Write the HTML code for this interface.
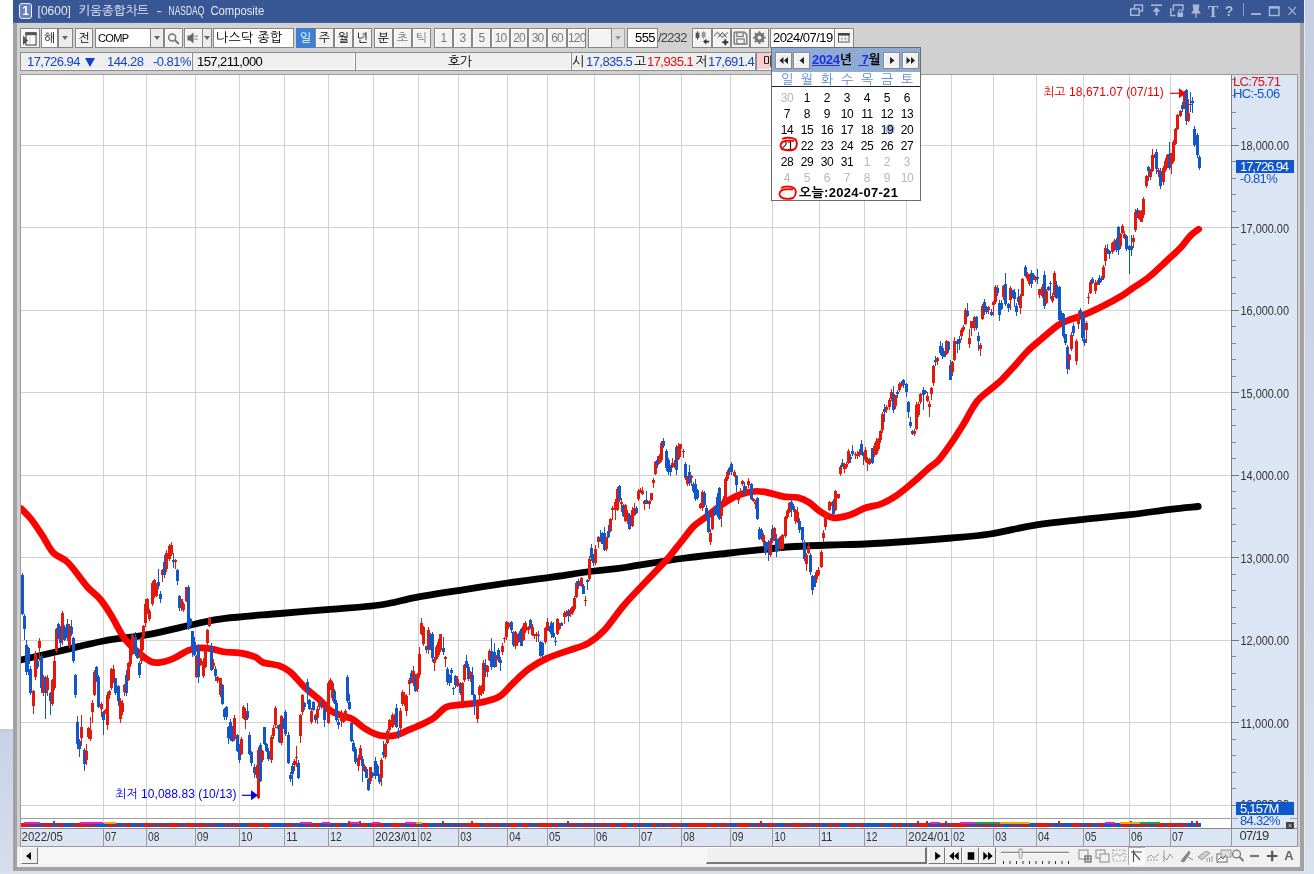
<!DOCTYPE html><html lang="ko"><head><meta charset="utf-8"><title>키움종합차트</title><style>
*{box-sizing:border-box;margin:0;padding:0}
html,body{width:1314px;height:874px;overflow:hidden}
body{position:relative;background:#fff;font-family:"Liberation Sans","NanumGothic","Noto Sans CJK KR",sans-serif;font-size:12px;color:#000}
.abs{position:absolute}
#bgL{left:0;top:0;width:13px;height:874px;background:linear-gradient(#fff 0,#fff 729px,#bfcbe0 729px,#c9d3e7 734px,#d6ddec 874px)}
#bgR{left:1304px;top:0;width:10px;height:874px;background:linear-gradient(#c6cee2,#cdd5e7 50%,#d9e0ee);border-left:1px solid #e6eaf4}
#bgB{left:0;top:871px;width:1314px;height:3px;background:#d9e0ee}
#win{left:13px;top:0;width:1291px;height:871px;background:#d1d1d1;border-left:4px solid #a2a2a2;border-right:4px solid #a2a2a2;border-bottom:4px solid #a2a2a2}
#title{left:13px;top:0;width:1291px;height:23px;background:#3a5795;border-bottom:1px solid #4a64a0}
#ttext{left:37px;top:3px;color:#e6ebf5;font-size:12px;line-height:16px;white-space:pre;letter-spacing:-0.2px}
#ticon{left:19px;top:3px;width:13px;height:16px;border:1px solid #f0f3fa;border-radius:3px;background:#6683bd;color:#fff;font-weight:bold;font-size:12px;line-height:14px;text-align:center}
.btn{position:absolute;top:28px;height:20px;border:1px solid #868686;background:#f3f3f3;text-align:center;line-height:18px;font-size:12px;overflow:hidden;white-space:nowrap;box-shadow:inset 1px 1px 0 #fff}
.inp{position:absolute;top:28px;height:20px;border:1px solid #868686;background:#fff;line-height:18px;font-size:12px;padding-left:2px;overflow:hidden;white-space:nowrap}
.dd{position:absolute;top:28px;height:20px;border:1px solid #868686;background:#ececec}
.dd:after{content:"";position:absolute;left:50%;top:7px;margin-left:-3.5px;border:3.5px solid transparent;border-top:4.5px solid #666;border-bottom:0}
.gray{color:#7c7c7c}
.sel{background:#3c80d6;color:#fff;box-shadow:none;border-color:#3c80d6}
.cell{position:absolute;top:52px;height:19px;border:1px solid #8c8c8c;background:#efefef;line-height:17px;font-size:13px;letter-spacing:-0.55px;white-space:pre;overflow:hidden;box-shadow:inset -1px -1px 0 #fff}
.blue{color:#1144cc}.red{color:#e01010}
#chartframe{left:20px;top:74px;width:1278px;height:773px;border:1px solid #9a9a9a;background:#fff}
#axisR{left:1231px;top:75px;width:66px;height:771px;background:#dbe5f3;border-left:1px solid #7f7f7f}
#axisB{left:21px;top:828px;width:1276px;height:18px;background:#dbe5f3}
#botbar{left:17px;top:847px;width:1283px;height:20px;background:#f0f0f0}
.ax{font-family:"Liberation Sans",sans-serif;font-size:13px;fill:#333}
#cal{left:771px;top:47px;width:150px;height:154px;background:#fff;border:1px solid #6c6c6c}
#calh{left:0;top:0;width:148px;height:24px;background:#8eabd6}
.cb{position:absolute;top:4px;width:17px;height:17px;border:1px solid #8a8a8a;background:#f1f1f1;box-shadow:inset 1px 1px 0 #fff}
.cd{position:absolute;width:20px;text-align:center;font-size:12px;line-height:14px;letter-spacing:-0.4px}
.cg{color:#b8b8b8}
.wd{color:#5a8ad2}
</style></head><body>
<div id="bgL" class="abs"></div><div id="bgR" class="abs"></div><div id="bgB" class="abs"></div>
<div id="win" class="abs"></div><div id="title" class="abs"></div>
<div id="ticon" class="abs">1</div><svg class="abs" style="left:30px;top:0" width="250" height="23" viewBox="30 0 250 23" fill="#e6ebf5" font-size="13px"><text x="37.600" y="15.200" textLength="33.300" lengthAdjust="spacingAndGlyphs">[0600]</text><text x="78.500" y="15.200" font-size="12.500px" textLength="70.500" lengthAdjust="spacingAndGlyphs">키움종합차트</text><text x="156.500" y="15.200" textLength="5.500" lengthAdjust="spacingAndGlyphs">-</text><text x="168.600" y="15.200" textLength="35.600" lengthAdjust="spacingAndGlyphs">NASDAQ</text><text x="210.400" y="15.200" textLength="53.800" lengthAdjust="spacingAndGlyphs">Composite</text></svg>
<svg class="abs" style="left:1120px;top:0" width="184" height="23" viewBox="1120 0 184 23" fill="none" stroke="#a9b9da" stroke-width="1.4">
<rect x="1134.5" y="5" width="8" height="6"/><rect x="1130.7" y="9" width="8.5" height="6.3" fill="#3a5795"/>
<path d="M1151 5.2h11" stroke-width="1.6"/><path d="M1156.5 15.5v-6" stroke-width="2"/><path d="M1152.5 11.5l4-4.2 4 4.2z" fill="#a9b9da" stroke="none"/>
<path d="M1170.800 8v7.500h4.700M1173.400 11V5h9.600v5.500"/><rect x="1177.5" y="12.5" width="5.5" height="4.5" fill="#a9b9da" stroke="none"/><path d="M1178.7 12.5v-1.5a1.6 1.6 0 0 1 3.2 0v1.5" stroke-width="1"/>
<path d="M1192.5 4.5h7l-1 5.5 2.5 3.5h-10l2.5-3.5z" fill="#a9b9da" stroke="none"/><path d="M1196 13v5" stroke-width="1.2"/>
<path d="M1251 14h10" stroke-width="1.8"/>
<rect x="1269.5" y="7" width="9.5" height="8.5"/><path d="M1269 7.5h10.5" stroke-width="2.2"/>
<path d="M1288.5 6.8l7.5 8M1296 6.8l-7.5 8" stroke-width="1.1"/>
<path d="M1243.5 3v13.5" stroke="#8a9bc4" stroke-width="1"/>
</svg>
<div class="abs" style="left:1206px;top:1px;width:14px;color:#a9b9da;font-family:'Liberation Serif',serif;font-size:16px;font-weight:bold;line-height:21px;text-align:center">T</div>
<div class="abs" style="left:1222px;top:2px;width:14px;color:#a9b9da;font-size:14px;font-weight:bold;line-height:18px;text-align:center">?</div>
<div class="btn " style="left:20px;width:20px"><svg width="18" height="18" viewBox="0 0 18 18" style="display:block"><rect x="5" y="4" width="10" height="12" fill="#fff" stroke="#555" stroke-width="1.2"/><rect x="4.400" y="3.200" width="11.200" height="3" fill="#555"/><path d="M9 7v8" stroke="#ccc"/><path d="M2 6.800l5.200 4.600-5.200 4.600z" fill="#555"/></svg></div>
<div class="inp" style="left:41px;width:17px;padding-left:2px">해</div>
<div class="dd" style="left:58px;width:15px"></div>
<div class="btn " style="left:75px;width:18px">전</div>
<div class="inp" style="left:95px;width:56px;letter-spacing:-0.6px;font-size:11px">COMP</div>
<div class="dd" style="left:150px;width:14px"></div>
<div class="btn " style="left:164px;width:19px"><svg width="17" height="18" viewBox="0 0 17 18" style="display:block"><circle cx="7.200" cy="8.400" r="3.500" fill="none" stroke="#777" stroke-width="1.500"/><path d="M9.800 11l4 4" stroke="#777" stroke-width="1.900"/></svg></div>
<div class="btn " style="left:184px;width:19px"><svg width="17" height="18" viewBox="0 0 17 18" style="display:block"><path d="M2.500 6.500h2.500l3.500-3v11l-3.500-3H2.500z" fill="#666"/><path d="M10 6.500v1.200M10 9.500v1.200M12 6.500v1.200M12 9.500v1.200" stroke="#666" stroke-width="1.200"/></svg></div>
<div class="dd" style="left:202px;width:10px"></div>
<div class="inp" style="left:213px;width:81px;font-size:13px;letter-spacing:0.3px">나스닥 종합</div>
<div class="btn sel" style="left:296px;width:19px">일</div>
<div class="btn " style="left:315px;width:19px">주</div>
<div class="btn " style="left:334px;width:19px">월</div>
<div class="btn " style="left:353px;width:19px">년</div>
<div class="btn " style="left:374px;width:19px">분</div>
<div class="btn gray" style="left:393px;width:19px">초</div>
<div class="btn gray" style="left:412px;width:19px">틱</div>
<div class="btn gray" style="letter-spacing:-0.8px;left:434px;width:19px">1</div>
<div class="btn gray" style="letter-spacing:-0.8px;left:453px;width:19px">3</div>
<div class="btn gray" style="letter-spacing:-0.8px;left:472px;width:19px">5</div>
<div class="btn gray" style="letter-spacing:-0.8px;left:491px;width:19px">10</div>
<div class="btn gray" style="letter-spacing:-0.8px;left:510px;width:18px">20</div>
<div class="btn gray" style="letter-spacing:-0.8px;left:528px;width:19px">30</div>
<div class="btn gray" style="letter-spacing:-0.8px;left:547px;width:20px">60</div>
<div class="btn gray" style="letter-spacing:-0.8px;left:567px;width:19px">120</div>
<div class="btn " style="left:588px;width:24px"></div>
<div class="dd" style="left:611px;width:14px;opacity:.55"></div>
<div class="inp" style="left:627px;width:31px;text-align:right;padding-right:2px;font-size:13px;letter-spacing:-0.6px">555</div>
<div class="abs" style="left:658px;top:28px;height:20px;line-height:20px;font-size:13px;color:#444;letter-spacing:-0.75px">/2232</div>
<div class="btn " style="left:692px;width:20px"><svg width="18" height="18" viewBox="0 0 18 18" style="display:block"><path d="M4.500 2.300v8.500" stroke="#555"/><rect x="2.700" y="3.700" width="3.700" height="5.300" fill="#555"/><path d="M10.600 2.300v7.700" stroke="#999"/><rect x="8.700" y="3.300" width="3.900" height="5" fill="#999"/><path d="M16.200 12.600h-4" stroke="#333" stroke-width="1.800"/><path d="M13.400 9.800l-3.400 2.800 3.400 2.800z" fill="#333"/></svg></div>
<div class="btn " style="left:712px;width:19px"><svg width="17" height="18" viewBox="0 0 17 18" style="display:block"><path d="M1 7l3.500-3.700 5 5.200 5.500-5.200" stroke="#888" fill="none" stroke-width="1.100"/><path d="M5 8.500l4.500-5 4 5" stroke="#444" fill="none" stroke-width="1"/><path d="M12.300 10.300v6M9.300 13.300h6" stroke="#333" stroke-width="1.900"/></svg></div>
<div class="btn " style="left:731px;width:19px"><svg width="17" height="18" viewBox="0 0 17 18" style="display:block"><path d="M2.200 3.300h10.300l2.300 2.300v9.400H2.200z" fill="none" stroke="#888" stroke-width="1.700"/><rect x="4.800" y="3.300" width="6.400" height="4.200" fill="none" stroke="#888" stroke-width="1.400"/><rect x="4.800" y="10" width="7.400" height="5" fill="none" stroke="#888" stroke-width="1.400"/></svg></div>
<div class="btn " style="left:750px;width:19px"><svg width="17" height="18" viewBox="0 0 17 18" style="display:block"><circle cx="8.400" cy="8.600" r="3.700" fill="none" stroke="#777" stroke-width="2.600"/><path d="M8.400 2.300v12.600M2.100 8.600h12.600M3.900 4.100l9 9M12.900 4.100l-9 9" stroke="#777" stroke-width="1.900"/><circle cx="8.400" cy="8.600" r="1.900" fill="#f3f3f3"/></svg></div>
<div class="inp" style="left:770px;width:65px;font-size:13px;letter-spacing:-0.55px">2024/07/19</div>
<div class="btn " style="left:834px;width:20px"><svg width="18" height="18" viewBox="0 0 18 18" style="display:block"><rect x="3.500" y="4.500" width="10.500" height="8.500" fill="#fff" stroke="#555"/><rect x="3" y="4" width="11.500" height="2.600" fill="#444"/><path d="M7 7v6M10.500 7v6M4 9.800h10" stroke="#aaa" stroke-width="0.800"/></svg></div>
<div class="cell" style="left:20px;width:173px;"><span class="blue" style="position:absolute;left:6px">17,726.94</span><span style="position:absolute;left:64px;top:5px;width:0;height:0;border:5.5px solid transparent;border-top:9px solid #1144cc;border-bottom:0"></span><span class="blue" style="position:absolute;left:86px">144.28</span><span class="blue" style="position:absolute;left:132px">-0.81%</span></div>
<div class="cell" style="left:192px;width:164px;"><span style="position:absolute;left:4px">157,211,000</span></div>
<div class="cell" style="left:355px;width:217px;"><span style="position:absolute;left:92px">호가</span></div>
<div class="cell" style="left:571px;width:185px;"><span style="position:absolute;left:0px">시</span><span class="blue" style="position:absolute;left:14px">17,835.5</span><span style="position:absolute;left:62px">고</span><span class="red" style="position:absolute;left:75px">17,935.1</span><span style="position:absolute;left:123px">저</span><span class="blue" style="position:absolute;left:136px">17,691.4</span></div>
<div class="cell" style="left:756px;width:17px;background:#f6cfcf"><span style="position:absolute;left:6px">매</span></div>
<div id="chartframe" class="abs"></div><div id="axisR" class="abs"></div><div id="axisB" class="abs"></div><div id="botbar" class="abs"></div>
<svg id="chart" width="1314" height="874" viewBox="0 0 1314 874" style="position:absolute;left:0;top:0">
<g shape-rendering="crispEdges">
<rect x="103" y="75" width="1" height="753" fill="#d2d2d2"/>
<rect x="146" y="75" width="1" height="753" fill="#d2d2d2"/>
<rect x="195" y="75" width="1" height="753" fill="#d2d2d2"/>
<rect x="239" y="75" width="1" height="753" fill="#d2d2d2"/>
<rect x="284" y="75" width="1" height="753" fill="#d2d2d2"/>
<rect x="328" y="75" width="1" height="753" fill="#d2d2d2"/>
<rect x="373" y="75" width="1" height="753" fill="#d2d2d2"/>
<rect x="418" y="75" width="1" height="753" fill="#d2d2d2"/>
<rect x="458" y="75" width="1" height="753" fill="#d2d2d2"/>
<rect x="507" y="75" width="1" height="753" fill="#d2d2d2"/>
<rect x="547" y="75" width="1" height="753" fill="#d2d2d2"/>
<rect x="594" y="75" width="1" height="753" fill="#d2d2d2"/>
<rect x="639" y="75" width="1" height="753" fill="#d2d2d2"/>
<rect x="681" y="75" width="1" height="753" fill="#d2d2d2"/>
<rect x="730" y="75" width="1" height="753" fill="#d2d2d2"/>
<rect x="772" y="75" width="1" height="753" fill="#d2d2d2"/>
<rect x="819" y="75" width="1" height="753" fill="#d2d2d2"/>
<rect x="864" y="75" width="1" height="753" fill="#d2d2d2"/>
<rect x="906" y="75" width="1" height="753" fill="#d2d2d2"/>
<rect x="951" y="75" width="1" height="753" fill="#d2d2d2"/>
<rect x="993" y="75" width="1" height="753" fill="#d2d2d2"/>
<rect x="1036" y="75" width="1" height="753" fill="#d2d2d2"/>
<rect x="1083" y="75" width="1" height="753" fill="#d2d2d2"/>
<rect x="1129" y="75" width="1" height="753" fill="#d2d2d2"/>
<rect x="1170" y="75" width="1" height="753" fill="#d2d2d2"/>
<rect x="21" y="805" width="1210" height="1" fill="#d2d2d2"/>
<rect x="21" y="722" width="1210" height="1" fill="#d2d2d2"/>
<rect x="21" y="640" width="1210" height="1" fill="#d2d2d2"/>
<rect x="21" y="557" width="1210" height="1" fill="#d2d2d2"/>
<rect x="21" y="475" width="1210" height="1" fill="#d2d2d2"/>
<rect x="21" y="392" width="1210" height="1" fill="#d2d2d2"/>
<rect x="21" y="310" width="1210" height="1" fill="#d2d2d2"/>
<rect x="21" y="227" width="1210" height="1" fill="#d2d2d2"/>
<rect x="21" y="145" width="1210" height="1" fill="#d2d2d2"/>
<rect x="21" y="818" width="1217" height="1" fill="#a0a0a0"/>
<rect x="1290" y="818" width="7" height="1" fill="#a0a0a0"/>
<rect x="1231" y="828" width="1" height="18" fill="#999"/>
<rect x="21" y="827.5" width="1276" height="1" fill="#888"/>
<rect x="21" y="823" width="3" height="4" fill="#e5190b"/>
<rect x="23" y="823" width="3" height="4" fill="#e5190b"/>
<rect x="25" y="823" width="3" height="4" fill="#e5190b"/>
<rect x="27" y="823" width="3" height="4" fill="#1257c9"/>
<rect x="29" y="823" width="3" height="4" fill="#e5190b"/>
<rect x="32" y="823" width="3" height="4" fill="#1257c9"/>
<rect x="34" y="823" width="3" height="4" fill="#e5190b"/>
<rect x="36" y="823" width="3" height="4" fill="#1257c9"/>
<rect x="38" y="823" width="3" height="4" fill="#1257c9"/>
<rect x="40" y="823" width="3" height="4" fill="#e5190b"/>
<rect x="42" y="823" width="3" height="4" fill="#1257c9"/>
<rect x="44" y="823" width="3" height="4" fill="#e5190b"/>
<rect x="46" y="823" width="3" height="4" fill="#e5190b"/>
<rect x="49" y="823" width="3" height="4" fill="#e5190b"/>
<rect x="51" y="823" width="3" height="4" fill="#1257c9"/>
<rect x="53" y="823" width="3" height="4" fill="#1257c9"/>
<rect x="53" y="821" width="2" height="2" fill="#e5190b"/>
<rect x="55" y="823" width="3" height="4" fill="#e5190b"/>
<rect x="57" y="823" width="3" height="4" fill="#1257c9"/>
<rect x="59" y="823" width="3" height="4" fill="#e5190b"/>
<rect x="61" y="823" width="3" height="4" fill="#e5190b"/>
<rect x="63" y="823" width="3" height="4" fill="#1257c9"/>
<rect x="66" y="823" width="3" height="4" fill="#1257c9"/>
<rect x="68" y="823" width="3" height="4" fill="#1257c9"/>
<rect x="70" y="823" width="3" height="4" fill="#1257c9"/>
<rect x="72" y="823" width="3" height="4" fill="#e5190b"/>
<rect x="74" y="823" width="3" height="4" fill="#1257c9"/>
<rect x="76" y="823" width="3" height="4" fill="#e5190b"/>
<rect x="78" y="823" width="3" height="4" fill="#e5190b"/>
<rect x="80" y="823" width="3" height="4" fill="#e5190b"/>
<rect x="83" y="823" width="3" height="4" fill="#e5190b"/>
<rect x="85" y="823" width="3" height="4" fill="#1257c9"/>
<rect x="87" y="823" width="3" height="4" fill="#e5190b"/>
<rect x="89" y="823" width="3" height="4" fill="#e5190b"/>
<rect x="91" y="823" width="3" height="4" fill="#1257c9"/>
<rect x="93" y="823" width="3" height="4" fill="#e5190b"/>
<rect x="95" y="823" width="3" height="4" fill="#1257c9"/>
<rect x="97" y="823" width="3" height="4" fill="#1257c9"/>
<rect x="100" y="823" width="3" height="4" fill="#1257c9"/>
<rect x="102" y="823" width="3" height="4" fill="#1257c9"/>
<rect x="104" y="823" width="3" height="4" fill="#1257c9"/>
<rect x="106" y="823" width="3" height="4" fill="#1257c9"/>
<rect x="108" y="823" width="3" height="4" fill="#e5190b"/>
<rect x="110" y="823" width="3" height="4" fill="#e5190b"/>
<rect x="112" y="823" width="3" height="4" fill="#1257c9"/>
<rect x="114" y="823" width="3" height="4" fill="#e5190b"/>
<rect x="117" y="823" width="3" height="4" fill="#1257c9"/>
<rect x="119" y="823" width="3" height="4" fill="#1257c9"/>
<rect x="121" y="823" width="3" height="4" fill="#1257c9"/>
<rect x="123" y="823" width="3" height="4" fill="#e5190b"/>
<rect x="125" y="823" width="3" height="4" fill="#1257c9"/>
<rect x="127" y="823" width="3" height="4" fill="#e5190b"/>
<rect x="129" y="823" width="3" height="4" fill="#e5190b"/>
<rect x="131" y="823" width="3" height="4" fill="#1257c9"/>
<rect x="134" y="823" width="3" height="4" fill="#1257c9"/>
<rect x="136" y="823" width="3" height="4" fill="#1257c9"/>
<rect x="138" y="823" width="3" height="4" fill="#e5190b"/>
<rect x="140" y="823" width="3" height="4" fill="#1257c9"/>
<rect x="142" y="823" width="3" height="4" fill="#1257c9"/>
<rect x="144" y="823" width="3" height="4" fill="#e5190b"/>
<rect x="146" y="823" width="3" height="4" fill="#e5190b"/>
<rect x="148" y="823" width="3" height="4" fill="#e5190b"/>
<rect x="151" y="823" width="3" height="4" fill="#1257c9"/>
<rect x="153" y="823" width="3" height="4" fill="#e5190b"/>
<rect x="155" y="823" width="3" height="4" fill="#1257c9"/>
<rect x="157" y="823" width="3" height="4" fill="#e5190b"/>
<rect x="159" y="823" width="3" height="4" fill="#1257c9"/>
<rect x="161" y="823" width="3" height="4" fill="#e5190b"/>
<rect x="163" y="823" width="3" height="4" fill="#e5190b"/>
<rect x="165" y="823" width="3" height="4" fill="#1257c9"/>
<rect x="168" y="823" width="3" height="4" fill="#e5190b"/>
<rect x="170" y="823" width="3" height="4" fill="#e5190b"/>
<rect x="172" y="823" width="3" height="4" fill="#e5190b"/>
<rect x="174" y="823" width="3" height="4" fill="#e5190b"/>
<rect x="176" y="823" width="3" height="4" fill="#e5190b"/>
<rect x="178" y="823" width="3" height="4" fill="#1257c9"/>
<rect x="180" y="823" width="3" height="4" fill="#e5190b"/>
<rect x="182" y="823" width="3" height="4" fill="#1257c9"/>
<rect x="185" y="823" width="3" height="4" fill="#e5190b"/>
<rect x="187" y="823" width="3" height="4" fill="#e5190b"/>
<rect x="189" y="823" width="3" height="4" fill="#e5190b"/>
<rect x="191" y="823" width="3" height="4" fill="#e5190b"/>
<rect x="193" y="823" width="3" height="4" fill="#e5190b"/>
<rect x="195" y="823" width="3" height="4" fill="#1257c9"/>
<rect x="197" y="823" width="3" height="4" fill="#e5190b"/>
<rect x="199" y="823" width="3" height="4" fill="#e5190b"/>
<rect x="202" y="823" width="3" height="4" fill="#e5190b"/>
<rect x="204" y="823" width="3" height="4" fill="#1257c9"/>
<rect x="206" y="823" width="3" height="4" fill="#e5190b"/>
<rect x="208" y="823" width="3" height="4" fill="#1257c9"/>
<rect x="210" y="823" width="3" height="4" fill="#e5190b"/>
<rect x="212" y="823" width="3" height="4" fill="#1257c9"/>
<rect x="214" y="823" width="3" height="4" fill="#e5190b"/>
<rect x="216" y="823" width="3" height="4" fill="#1257c9"/>
<rect x="219" y="823" width="3" height="4" fill="#1257c9"/>
<rect x="221" y="823" width="3" height="4" fill="#1257c9"/>
<rect x="223" y="823" width="3" height="4" fill="#1257c9"/>
<rect x="225" y="823" width="3" height="4" fill="#e5190b"/>
<rect x="227" y="823" width="3" height="4" fill="#1257c9"/>
<rect x="229" y="823" width="3" height="4" fill="#e5190b"/>
<rect x="231" y="823" width="3" height="4" fill="#1257c9"/>
<rect x="233" y="823" width="3" height="4" fill="#e5190b"/>
<rect x="236" y="823" width="3" height="4" fill="#1257c9"/>
<rect x="238" y="823" width="3" height="4" fill="#e5190b"/>
<rect x="240" y="823" width="3" height="4" fill="#1257c9"/>
<rect x="242" y="823" width="3" height="4" fill="#1257c9"/>
<rect x="244" y="823" width="3" height="4" fill="#1257c9"/>
<rect x="246" y="823" width="3" height="4" fill="#1257c9"/>
<rect x="248" y="823" width="3" height="4" fill="#e5190b"/>
<rect x="250" y="823" width="3" height="4" fill="#e5190b"/>
<rect x="253" y="823" width="3" height="4" fill="#e5190b"/>
<rect x="255" y="823" width="3" height="4" fill="#e5190b"/>
<rect x="257" y="823" width="3" height="4" fill="#e5190b"/>
<rect x="259" y="823" width="3" height="4" fill="#1257c9"/>
<rect x="261" y="823" width="3" height="4" fill="#e5190b"/>
<rect x="263" y="823" width="3" height="4" fill="#e5190b"/>
<rect x="265" y="823" width="3" height="4" fill="#e5190b"/>
<rect x="267" y="823" width="3" height="4" fill="#e5190b"/>
<rect x="270" y="823" width="3" height="4" fill="#1257c9"/>
<rect x="272" y="823" width="3" height="4" fill="#1257c9"/>
<rect x="274" y="823" width="3" height="4" fill="#1257c9"/>
<rect x="276" y="823" width="3" height="4" fill="#1257c9"/>
<rect x="278" y="823" width="3" height="4" fill="#1257c9"/>
<rect x="280" y="823" width="3" height="4" fill="#1257c9"/>
<rect x="282" y="823" width="3" height="4" fill="#1257c9"/>
<rect x="284" y="823" width="3" height="4" fill="#1257c9"/>
<rect x="286" y="823" width="3" height="4" fill="#e5190b"/>
<rect x="289" y="823" width="3" height="4" fill="#e5190b"/>
<rect x="291" y="823" width="3" height="4" fill="#1257c9"/>
<rect x="293" y="823" width="3" height="4" fill="#1257c9"/>
<rect x="295" y="823" width="3" height="4" fill="#e5190b"/>
<rect x="297" y="823" width="3" height="4" fill="#1257c9"/>
<rect x="299" y="823" width="3" height="4" fill="#1257c9"/>
<rect x="301" y="823" width="3" height="4" fill="#1257c9"/>
<rect x="303" y="823" width="3" height="4" fill="#1257c9"/>
<rect x="306" y="823" width="3" height="4" fill="#e5190b"/>
<rect x="308" y="823" width="3" height="4" fill="#1257c9"/>
<rect x="310" y="823" width="3" height="4" fill="#e5190b"/>
<rect x="312" y="823" width="3" height="4" fill="#e5190b"/>
<rect x="314" y="823" width="3" height="4" fill="#1257c9"/>
<rect x="316" y="823" width="3" height="4" fill="#e5190b"/>
<rect x="318" y="823" width="3" height="4" fill="#e5190b"/>
<rect x="320" y="823" width="3" height="4" fill="#1257c9"/>
<rect x="323" y="823" width="3" height="4" fill="#1257c9"/>
<rect x="325" y="823" width="3" height="4" fill="#1257c9"/>
<rect x="327" y="823" width="3" height="4" fill="#e5190b"/>
<rect x="329" y="823" width="3" height="4" fill="#1257c9"/>
<rect x="331" y="823" width="3" height="4" fill="#1257c9"/>
<rect x="333" y="823" width="3" height="4" fill="#1257c9"/>
<rect x="335" y="823" width="3" height="4" fill="#e5190b"/>
<rect x="337" y="823" width="3" height="4" fill="#e5190b"/>
<rect x="340" y="823" width="3" height="4" fill="#1257c9"/>
<rect x="342" y="823" width="3" height="4" fill="#1257c9"/>
<rect x="344" y="823" width="3" height="4" fill="#1257c9"/>
<rect x="346" y="823" width="3" height="4" fill="#1257c9"/>
<rect x="348" y="823" width="3" height="4" fill="#e5190b"/>
<rect x="348" y="821" width="2" height="2" fill="#e5190b"/>
<rect x="350" y="823" width="3" height="4" fill="#e5190b"/>
<rect x="352" y="823" width="3" height="4" fill="#1257c9"/>
<rect x="354" y="823" width="3" height="4" fill="#1257c9"/>
<rect x="357" y="823" width="3" height="4" fill="#e5190b"/>
<rect x="359" y="823" width="3" height="4" fill="#1257c9"/>
<rect x="359" y="821" width="2" height="2" fill="#e5190b"/>
<rect x="361" y="823" width="3" height="4" fill="#e5190b"/>
<rect x="363" y="823" width="3" height="4" fill="#e5190b"/>
<rect x="365" y="823" width="3" height="4" fill="#e5190b"/>
<rect x="367" y="823" width="3" height="4" fill="#1257c9"/>
<rect x="369" y="823" width="3" height="4" fill="#1257c9"/>
<rect x="371" y="823" width="3" height="4" fill="#e5190b"/>
<rect x="374" y="823" width="3" height="4" fill="#e5190b"/>
<rect x="376" y="823" width="3" height="4" fill="#e5190b"/>
<rect x="378" y="823" width="3" height="4" fill="#1257c9"/>
<rect x="380" y="823" width="3" height="4" fill="#e5190b"/>
<rect x="382" y="823" width="3" height="4" fill="#e5190b"/>
<rect x="384" y="823" width="3" height="4" fill="#1257c9"/>
<rect x="386" y="823" width="3" height="4" fill="#1257c9"/>
<rect x="388" y="823" width="3" height="4" fill="#1257c9"/>
<rect x="391" y="823" width="3" height="4" fill="#e5190b"/>
<rect x="393" y="823" width="3" height="4" fill="#e5190b"/>
<rect x="395" y="823" width="3" height="4" fill="#e5190b"/>
<rect x="397" y="823" width="3" height="4" fill="#e5190b"/>
<rect x="399" y="823" width="3" height="4" fill="#e5190b"/>
<rect x="401" y="823" width="3" height="4" fill="#1257c9"/>
<rect x="403" y="823" width="3" height="4" fill="#e5190b"/>
<rect x="405" y="823" width="3" height="4" fill="#1257c9"/>
<rect x="408" y="823" width="3" height="4" fill="#1257c9"/>
<rect x="410" y="823" width="3" height="4" fill="#e5190b"/>
<rect x="412" y="823" width="3" height="4" fill="#e5190b"/>
<rect x="414" y="823" width="3" height="4" fill="#1257c9"/>
<rect x="416" y="823" width="3" height="4" fill="#e5190b"/>
<rect x="418" y="823" width="3" height="4" fill="#1257c9"/>
<rect x="420" y="823" width="3" height="4" fill="#1257c9"/>
<rect x="422" y="823" width="3" height="4" fill="#e5190b"/>
<rect x="425" y="823" width="3" height="4" fill="#e5190b"/>
<rect x="427" y="823" width="3" height="4" fill="#e5190b"/>
<rect x="429" y="823" width="3" height="4" fill="#1257c9"/>
<rect x="431" y="823" width="3" height="4" fill="#1257c9"/>
<rect x="433" y="823" width="3" height="4" fill="#1257c9"/>
<rect x="435" y="823" width="3" height="4" fill="#1257c9"/>
<rect x="437" y="823" width="3" height="4" fill="#e5190b"/>
<rect x="439" y="823" width="3" height="4" fill="#1257c9"/>
<rect x="442" y="823" width="3" height="4" fill="#1257c9"/>
<rect x="442" y="821" width="2" height="2" fill="#e5190b"/>
<rect x="444" y="823" width="3" height="4" fill="#e5190b"/>
<rect x="446" y="823" width="3" height="4" fill="#1257c9"/>
<rect x="448" y="823" width="3" height="4" fill="#1257c9"/>
<rect x="450" y="823" width="3" height="4" fill="#1257c9"/>
<rect x="452" y="823" width="3" height="4" fill="#e5190b"/>
<rect x="454" y="823" width="3" height="4" fill="#1257c9"/>
<rect x="456" y="823" width="3" height="4" fill="#1257c9"/>
<rect x="459" y="823" width="3" height="4" fill="#e5190b"/>
<rect x="461" y="823" width="3" height="4" fill="#1257c9"/>
<rect x="463" y="823" width="3" height="4" fill="#e5190b"/>
<rect x="465" y="823" width="3" height="4" fill="#1257c9"/>
<rect x="467" y="823" width="3" height="4" fill="#e5190b"/>
<rect x="469" y="823" width="3" height="4" fill="#e5190b"/>
<rect x="471" y="823" width="3" height="4" fill="#e5190b"/>
<rect x="471" y="821" width="2" height="2" fill="#e5190b"/>
<rect x="473" y="823" width="3" height="4" fill="#e5190b"/>
<rect x="476" y="823" width="3" height="4" fill="#e5190b"/>
<rect x="478" y="823" width="3" height="4" fill="#e5190b"/>
<rect x="480" y="823" width="3" height="4" fill="#1257c9"/>
<rect x="482" y="823" width="3" height="4" fill="#1257c9"/>
<rect x="484" y="823" width="3" height="4" fill="#e5190b"/>
<rect x="486" y="823" width="3" height="4" fill="#e5190b"/>
<rect x="488" y="823" width="3" height="4" fill="#1257c9"/>
<rect x="490" y="823" width="3" height="4" fill="#e5190b"/>
<rect x="493" y="823" width="3" height="4" fill="#1257c9"/>
<rect x="495" y="823" width="3" height="4" fill="#e5190b"/>
<rect x="497" y="823" width="3" height="4" fill="#e5190b"/>
<rect x="499" y="823" width="3" height="4" fill="#1257c9"/>
<rect x="501" y="823" width="3" height="4" fill="#1257c9"/>
<rect x="503" y="823" width="3" height="4" fill="#1257c9"/>
<rect x="505" y="823" width="3" height="4" fill="#e5190b"/>
<rect x="507" y="823" width="3" height="4" fill="#1257c9"/>
<rect x="510" y="823" width="3" height="4" fill="#e5190b"/>
<rect x="512" y="823" width="3" height="4" fill="#e5190b"/>
<rect x="514" y="823" width="3" height="4" fill="#e5190b"/>
<rect x="516" y="823" width="3" height="4" fill="#e5190b"/>
<rect x="518" y="823" width="3" height="4" fill="#1257c9"/>
<rect x="520" y="823" width="3" height="4" fill="#1257c9"/>
<rect x="522" y="823" width="3" height="4" fill="#e5190b"/>
<rect x="524" y="823" width="3" height="4" fill="#e5190b"/>
<rect x="527" y="823" width="3" height="4" fill="#e5190b"/>
<rect x="529" y="823" width="3" height="4" fill="#1257c9"/>
<rect x="531" y="823" width="3" height="4" fill="#1257c9"/>
<rect x="533" y="823" width="3" height="4" fill="#1257c9"/>
<rect x="535" y="823" width="3" height="4" fill="#e5190b"/>
<rect x="537" y="823" width="3" height="4" fill="#1257c9"/>
<rect x="539" y="823" width="3" height="4" fill="#e5190b"/>
<rect x="541" y="823" width="3" height="4" fill="#e5190b"/>
<rect x="544" y="823" width="3" height="4" fill="#e5190b"/>
<rect x="546" y="823" width="3" height="4" fill="#e5190b"/>
<rect x="548" y="823" width="3" height="4" fill="#e5190b"/>
<rect x="550" y="823" width="3" height="4" fill="#e5190b"/>
<rect x="552" y="823" width="3" height="4" fill="#1257c9"/>
<rect x="554" y="823" width="3" height="4" fill="#e5190b"/>
<rect x="556" y="823" width="3" height="4" fill="#e5190b"/>
<rect x="558" y="823" width="3" height="4" fill="#1257c9"/>
<rect x="560" y="823" width="3" height="4" fill="#1257c9"/>
<rect x="563" y="823" width="3" height="4" fill="#e5190b"/>
<rect x="565" y="823" width="3" height="4" fill="#1257c9"/>
<rect x="567" y="823" width="3" height="4" fill="#1257c9"/>
<rect x="567" y="821" width="2" height="2" fill="#e5190b"/>
<rect x="569" y="823" width="3" height="4" fill="#e5190b"/>
<rect x="571" y="823" width="3" height="4" fill="#1257c9"/>
<rect x="573" y="823" width="3" height="4" fill="#e5190b"/>
<rect x="575" y="823" width="3" height="4" fill="#e5190b"/>
<rect x="577" y="823" width="3" height="4" fill="#1257c9"/>
<rect x="580" y="823" width="3" height="4" fill="#1257c9"/>
<rect x="582" y="823" width="3" height="4" fill="#e5190b"/>
<rect x="584" y="823" width="3" height="4" fill="#e5190b"/>
<rect x="586" y="823" width="3" height="4" fill="#1257c9"/>
<rect x="588" y="823" width="3" height="4" fill="#e5190b"/>
<rect x="590" y="823" width="3" height="4" fill="#1257c9"/>
<rect x="592" y="823" width="3" height="4" fill="#e5190b"/>
<rect x="594" y="823" width="3" height="4" fill="#1257c9"/>
<rect x="597" y="823" width="3" height="4" fill="#e5190b"/>
<rect x="599" y="823" width="3" height="4" fill="#1257c9"/>
<rect x="601" y="823" width="3" height="4" fill="#e5190b"/>
<rect x="603" y="823" width="3" height="4" fill="#e5190b"/>
<rect x="605" y="823" width="3" height="4" fill="#1257c9"/>
<rect x="607" y="823" width="3" height="4" fill="#e5190b"/>
<rect x="609" y="823" width="3" height="4" fill="#1257c9"/>
<rect x="611" y="823" width="3" height="4" fill="#e5190b"/>
<rect x="614" y="823" width="3" height="4" fill="#e5190b"/>
<rect x="616" y="823" width="3" height="4" fill="#1257c9"/>
<rect x="618" y="823" width="3" height="4" fill="#1257c9"/>
<rect x="620" y="823" width="3" height="4" fill="#e5190b"/>
<rect x="622" y="823" width="3" height="4" fill="#e5190b"/>
<rect x="624" y="823" width="3" height="4" fill="#e5190b"/>
<rect x="626" y="823" width="3" height="4" fill="#e5190b"/>
<rect x="628" y="823" width="3" height="4" fill="#1257c9"/>
<rect x="631" y="823" width="3" height="4" fill="#1257c9"/>
<rect x="633" y="823" width="3" height="4" fill="#e5190b"/>
<rect x="635" y="823" width="3" height="4" fill="#e5190b"/>
<rect x="637" y="823" width="3" height="4" fill="#1257c9"/>
<rect x="639" y="823" width="3" height="4" fill="#1257c9"/>
<rect x="641" y="823" width="3" height="4" fill="#e5190b"/>
<rect x="643" y="823" width="3" height="4" fill="#1257c9"/>
<rect x="645" y="823" width="3" height="4" fill="#1257c9"/>
<rect x="648" y="823" width="3" height="4" fill="#1257c9"/>
<rect x="650" y="823" width="3" height="4" fill="#1257c9"/>
<rect x="652" y="823" width="3" height="4" fill="#e5190b"/>
<rect x="654" y="823" width="3" height="4" fill="#e5190b"/>
<rect x="656" y="823" width="3" height="4" fill="#1257c9"/>
<rect x="658" y="823" width="3" height="4" fill="#1257c9"/>
<rect x="660" y="823" width="3" height="4" fill="#e5190b"/>
<rect x="662" y="823" width="3" height="4" fill="#1257c9"/>
<rect x="665" y="823" width="3" height="4" fill="#1257c9"/>
<rect x="667" y="823" width="3" height="4" fill="#e5190b"/>
<rect x="669" y="823" width="3" height="4" fill="#1257c9"/>
<rect x="671" y="823" width="3" height="4" fill="#e5190b"/>
<rect x="673" y="823" width="3" height="4" fill="#e5190b"/>
<rect x="675" y="823" width="3" height="4" fill="#e5190b"/>
<rect x="677" y="823" width="3" height="4" fill="#1257c9"/>
<rect x="679" y="823" width="3" height="4" fill="#e5190b"/>
<rect x="682" y="823" width="3" height="4" fill="#1257c9"/>
<rect x="684" y="823" width="3" height="4" fill="#1257c9"/>
<rect x="686" y="823" width="3" height="4" fill="#1257c9"/>
<rect x="688" y="823" width="3" height="4" fill="#e5190b"/>
<rect x="690" y="823" width="3" height="4" fill="#e5190b"/>
<rect x="692" y="823" width="3" height="4" fill="#e5190b"/>
<rect x="694" y="823" width="3" height="4" fill="#e5190b"/>
<rect x="696" y="823" width="3" height="4" fill="#e5190b"/>
<rect x="699" y="823" width="3" height="4" fill="#e5190b"/>
<rect x="701" y="823" width="3" height="4" fill="#e5190b"/>
<rect x="703" y="823" width="3" height="4" fill="#e5190b"/>
<rect x="705" y="823" width="3" height="4" fill="#e5190b"/>
<rect x="707" y="823" width="3" height="4" fill="#e5190b"/>
<rect x="709" y="823" width="3" height="4" fill="#1257c9"/>
<rect x="711" y="823" width="3" height="4" fill="#e5190b"/>
<rect x="713" y="823" width="3" height="4" fill="#e5190b"/>
<rect x="716" y="823" width="3" height="4" fill="#e5190b"/>
<rect x="718" y="823" width="3" height="4" fill="#1257c9"/>
<rect x="720" y="823" width="3" height="4" fill="#e5190b"/>
<rect x="722" y="823" width="3" height="4" fill="#e5190b"/>
<rect x="724" y="823" width="3" height="4" fill="#e5190b"/>
<rect x="726" y="823" width="3" height="4" fill="#1257c9"/>
<rect x="728" y="823" width="3" height="4" fill="#e5190b"/>
<rect x="730" y="823" width="3" height="4" fill="#1257c9"/>
<rect x="733" y="823" width="3" height="4" fill="#1257c9"/>
<rect x="735" y="823" width="3" height="4" fill="#1257c9"/>
<rect x="737" y="823" width="3" height="4" fill="#e5190b"/>
<rect x="739" y="823" width="3" height="4" fill="#e5190b"/>
<rect x="741" y="823" width="3" height="4" fill="#e5190b"/>
<rect x="743" y="823" width="3" height="4" fill="#e5190b"/>
<rect x="745" y="823" width="3" height="4" fill="#e5190b"/>
<rect x="747" y="823" width="3" height="4" fill="#e5190b"/>
<rect x="750" y="823" width="3" height="4" fill="#1257c9"/>
<rect x="752" y="823" width="3" height="4" fill="#1257c9"/>
<rect x="754" y="823" width="3" height="4" fill="#e5190b"/>
<rect x="756" y="823" width="3" height="4" fill="#1257c9"/>
<rect x="758" y="823" width="3" height="4" fill="#e5190b"/>
<rect x="760" y="823" width="3" height="4" fill="#1257c9"/>
<rect x="760" y="821" width="2" height="2" fill="#e5190b"/>
<rect x="762" y="823" width="3" height="4" fill="#e5190b"/>
<rect x="764" y="823" width="3" height="4" fill="#1257c9"/>
<rect x="767" y="823" width="3" height="4" fill="#e5190b"/>
<rect x="769" y="823" width="3" height="4" fill="#e5190b"/>
<rect x="771" y="823" width="3" height="4" fill="#e5190b"/>
<rect x="773" y="823" width="3" height="4" fill="#1257c9"/>
<rect x="775" y="823" width="3" height="4" fill="#e5190b"/>
<rect x="777" y="823" width="3" height="4" fill="#1257c9"/>
<rect x="779" y="823" width="3" height="4" fill="#1257c9"/>
<rect x="781" y="823" width="3" height="4" fill="#1257c9"/>
<rect x="784" y="823" width="3" height="4" fill="#e5190b"/>
<rect x="786" y="823" width="3" height="4" fill="#1257c9"/>
<rect x="788" y="823" width="3" height="4" fill="#e5190b"/>
<rect x="790" y="823" width="3" height="4" fill="#1257c9"/>
<rect x="792" y="823" width="3" height="4" fill="#e5190b"/>
<rect x="794" y="823" width="3" height="4" fill="#e5190b"/>
<rect x="796" y="823" width="3" height="4" fill="#e5190b"/>
<rect x="798" y="823" width="3" height="4" fill="#e5190b"/>
<rect x="801" y="823" width="3" height="4" fill="#1257c9"/>
<rect x="803" y="823" width="3" height="4" fill="#e5190b"/>
<rect x="805" y="823" width="3" height="4" fill="#e5190b"/>
<rect x="807" y="823" width="3" height="4" fill="#1257c9"/>
<rect x="809" y="823" width="3" height="4" fill="#e5190b"/>
<rect x="811" y="823" width="3" height="4" fill="#1257c9"/>
<rect x="813" y="823" width="3" height="4" fill="#1257c9"/>
<rect x="815" y="823" width="3" height="4" fill="#e5190b"/>
<rect x="818" y="823" width="3" height="4" fill="#1257c9"/>
<rect x="820" y="823" width="3" height="4" fill="#e5190b"/>
<rect x="822" y="823" width="3" height="4" fill="#1257c9"/>
<rect x="824" y="823" width="3" height="4" fill="#1257c9"/>
<rect x="826" y="823" width="3" height="4" fill="#1257c9"/>
<rect x="828" y="823" width="3" height="4" fill="#e5190b"/>
<rect x="830" y="823" width="3" height="4" fill="#e5190b"/>
<rect x="832" y="823" width="3" height="4" fill="#1257c9"/>
<rect x="834" y="823" width="3" height="4" fill="#e5190b"/>
<rect x="837" y="823" width="3" height="4" fill="#e5190b"/>
<rect x="839" y="823" width="3" height="4" fill="#1257c9"/>
<rect x="841" y="823" width="3" height="4" fill="#1257c9"/>
<rect x="843" y="823" width="3" height="4" fill="#1257c9"/>
<rect x="845" y="823" width="3" height="4" fill="#1257c9"/>
<rect x="847" y="823" width="3" height="4" fill="#1257c9"/>
<rect x="849" y="823" width="3" height="4" fill="#e5190b"/>
<rect x="851" y="823" width="3" height="4" fill="#e5190b"/>
<rect x="854" y="823" width="3" height="4" fill="#1257c9"/>
<rect x="856" y="823" width="3" height="4" fill="#e5190b"/>
<rect x="858" y="823" width="3" height="4" fill="#1257c9"/>
<rect x="860" y="823" width="3" height="4" fill="#e5190b"/>
<rect x="862" y="823" width="3" height="4" fill="#e5190b"/>
<rect x="864" y="823" width="3" height="4" fill="#1257c9"/>
<rect x="866" y="823" width="3" height="4" fill="#1257c9"/>
<rect x="868" y="823" width="3" height="4" fill="#1257c9"/>
<rect x="871" y="823" width="3" height="4" fill="#1257c9"/>
<rect x="873" y="823" width="3" height="4" fill="#1257c9"/>
<rect x="875" y="823" width="3" height="4" fill="#1257c9"/>
<rect x="877" y="823" width="3" height="4" fill="#1257c9"/>
<rect x="879" y="823" width="3" height="4" fill="#1257c9"/>
<rect x="881" y="823" width="3" height="4" fill="#e5190b"/>
<rect x="883" y="823" width="3" height="4" fill="#1257c9"/>
<rect x="885" y="823" width="3" height="4" fill="#1257c9"/>
<rect x="888" y="823" width="3" height="4" fill="#1257c9"/>
<rect x="890" y="823" width="3" height="4" fill="#1257c9"/>
<rect x="892" y="823" width="3" height="4" fill="#e5190b"/>
<rect x="894" y="823" width="3" height="4" fill="#e5190b"/>
<rect x="896" y="823" width="3" height="4" fill="#1257c9"/>
<rect x="898" y="823" width="3" height="4" fill="#e5190b"/>
<rect x="900" y="823" width="3" height="4" fill="#e5190b"/>
<rect x="902" y="823" width="3" height="4" fill="#1257c9"/>
<rect x="905" y="823" width="3" height="4" fill="#1257c9"/>
<rect x="907" y="823" width="3" height="4" fill="#e5190b"/>
<rect x="909" y="823" width="3" height="4" fill="#1257c9"/>
<rect x="911" y="823" width="3" height="4" fill="#1257c9"/>
<rect x="913" y="823" width="3" height="4" fill="#e5190b"/>
<rect x="915" y="823" width="3" height="4" fill="#1257c9"/>
<rect x="917" y="823" width="3" height="4" fill="#e5190b"/>
<rect x="917" y="821" width="2" height="2" fill="#e5190b"/>
<rect x="919" y="823" width="3" height="4" fill="#e5190b"/>
<rect x="922" y="823" width="3" height="4" fill="#e5190b"/>
<rect x="924" y="823" width="3" height="4" fill="#e5190b"/>
<rect x="926" y="823" width="3" height="4" fill="#e5190b"/>
<rect x="926" y="821" width="2" height="2" fill="#e5190b"/>
<rect x="928" y="823" width="3" height="4" fill="#1257c9"/>
<rect x="930" y="823" width="3" height="4" fill="#1257c9"/>
<rect x="932" y="823" width="3" height="4" fill="#e5190b"/>
<rect x="934" y="823" width="3" height="4" fill="#1257c9"/>
<rect x="936" y="823" width="3" height="4" fill="#1257c9"/>
<rect x="939" y="823" width="3" height="4" fill="#1257c9"/>
<rect x="941" y="823" width="3" height="4" fill="#e5190b"/>
<rect x="943" y="823" width="3" height="4" fill="#e5190b"/>
<rect x="945" y="823" width="3" height="4" fill="#1257c9"/>
<rect x="945" y="821" width="2" height="2" fill="#e5190b"/>
<rect x="947" y="823" width="3" height="4" fill="#e5190b"/>
<rect x="949" y="823" width="3" height="4" fill="#1257c9"/>
<rect x="951" y="823" width="3" height="4" fill="#e5190b"/>
<rect x="953" y="823" width="3" height="4" fill="#e5190b"/>
<rect x="956" y="823" width="3" height="4" fill="#e5190b"/>
<rect x="958" y="823" width="3" height="4" fill="#e5190b"/>
<rect x="960" y="823" width="3" height="4" fill="#e5190b"/>
<rect x="962" y="823" width="3" height="4" fill="#e5190b"/>
<rect x="964" y="823" width="3" height="4" fill="#e5190b"/>
<rect x="966" y="823" width="3" height="4" fill="#1257c9"/>
<rect x="968" y="823" width="3" height="4" fill="#e5190b"/>
<rect x="970" y="823" width="3" height="4" fill="#1257c9"/>
<rect x="973" y="823" width="3" height="4" fill="#1257c9"/>
<rect x="975" y="823" width="3" height="4" fill="#e5190b"/>
<rect x="977" y="823" width="3" height="4" fill="#1257c9"/>
<rect x="979" y="823" width="3" height="4" fill="#e5190b"/>
<rect x="981" y="823" width="3" height="4" fill="#1257c9"/>
<rect x="983" y="823" width="3" height="4" fill="#1257c9"/>
<rect x="985" y="823" width="3" height="4" fill="#e5190b"/>
<rect x="987" y="823" width="3" height="4" fill="#e5190b"/>
<rect x="990" y="823" width="3" height="4" fill="#1257c9"/>
<rect x="992" y="823" width="3" height="4" fill="#1257c9"/>
<rect x="994" y="823" width="3" height="4" fill="#e5190b"/>
<rect x="996" y="823" width="3" height="4" fill="#e5190b"/>
<rect x="998" y="823" width="3" height="4" fill="#1257c9"/>
<rect x="1000" y="823" width="3" height="4" fill="#e5190b"/>
<rect x="1002" y="823" width="3" height="4" fill="#1257c9"/>
<rect x="1004" y="823" width="3" height="4" fill="#1257c9"/>
<rect x="1007" y="823" width="3" height="4" fill="#1257c9"/>
<rect x="1009" y="823" width="3" height="4" fill="#1257c9"/>
<rect x="1011" y="823" width="3" height="4" fill="#e5190b"/>
<rect x="1013" y="823" width="3" height="4" fill="#1257c9"/>
<rect x="1015" y="823" width="3" height="4" fill="#e5190b"/>
<rect x="1017" y="823" width="3" height="4" fill="#1257c9"/>
<rect x="1019" y="823" width="3" height="4" fill="#1257c9"/>
<rect x="1021" y="823" width="3" height="4" fill="#e5190b"/>
<rect x="1024" y="823" width="3" height="4" fill="#e5190b"/>
<rect x="1026" y="823" width="3" height="4" fill="#1257c9"/>
<rect x="1028" y="823" width="3" height="4" fill="#e5190b"/>
<rect x="1030" y="823" width="3" height="4" fill="#1257c9"/>
<rect x="1032" y="823" width="3" height="4" fill="#1257c9"/>
<rect x="1034" y="823" width="3" height="4" fill="#1257c9"/>
<rect x="1036" y="823" width="3" height="4" fill="#e5190b"/>
<rect x="1038" y="823" width="3" height="4" fill="#e5190b"/>
<rect x="1041" y="823" width="3" height="4" fill="#e5190b"/>
<rect x="1043" y="823" width="3" height="4" fill="#e5190b"/>
<rect x="1045" y="823" width="3" height="4" fill="#e5190b"/>
<rect x="1047" y="823" width="3" height="4" fill="#e5190b"/>
<rect x="1049" y="823" width="3" height="4" fill="#1257c9"/>
<rect x="1051" y="823" width="3" height="4" fill="#e5190b"/>
<rect x="1053" y="823" width="3" height="4" fill="#1257c9"/>
<rect x="1055" y="823" width="3" height="4" fill="#1257c9"/>
<rect x="1058" y="823" width="3" height="4" fill="#1257c9"/>
<rect x="1058" y="821" width="2" height="2" fill="#e5190b"/>
<rect x="1060" y="823" width="3" height="4" fill="#e5190b"/>
<rect x="1062" y="823" width="3" height="4" fill="#1257c9"/>
<rect x="1064" y="823" width="3" height="4" fill="#1257c9"/>
<rect x="1066" y="823" width="3" height="4" fill="#1257c9"/>
<rect x="1068" y="823" width="3" height="4" fill="#1257c9"/>
<rect x="1070" y="823" width="3" height="4" fill="#1257c9"/>
<rect x="1072" y="823" width="3" height="4" fill="#e5190b"/>
<rect x="1075" y="823" width="3" height="4" fill="#e5190b"/>
<rect x="1077" y="823" width="3" height="4" fill="#e5190b"/>
<rect x="1079" y="823" width="3" height="4" fill="#1257c9"/>
<rect x="1081" y="823" width="3" height="4" fill="#e5190b"/>
<rect x="1083" y="823" width="3" height="4" fill="#1257c9"/>
<rect x="1085" y="823" width="3" height="4" fill="#1257c9"/>
<rect x="1087" y="823" width="3" height="4" fill="#e5190b"/>
<rect x="1089" y="823" width="3" height="4" fill="#e5190b"/>
<rect x="1091" y="823" width="3" height="4" fill="#1257c9"/>
<rect x="1094" y="823" width="3" height="4" fill="#1257c9"/>
<rect x="1096" y="823" width="3" height="4" fill="#e5190b"/>
<rect x="1098" y="823" width="3" height="4" fill="#1257c9"/>
<rect x="1100" y="823" width="3" height="4" fill="#e5190b"/>
<rect x="1102" y="823" width="3" height="4" fill="#e5190b"/>
<rect x="1104" y="823" width="3" height="4" fill="#1257c9"/>
<rect x="1106" y="823" width="3" height="4" fill="#1257c9"/>
<rect x="1108" y="823" width="3" height="4" fill="#1257c9"/>
<rect x="1111" y="823" width="3" height="4" fill="#1257c9"/>
<rect x="1113" y="823" width="3" height="4" fill="#e5190b"/>
<rect x="1115" y="823" width="3" height="4" fill="#1257c9"/>
<rect x="1117" y="823" width="3" height="4" fill="#1257c9"/>
<rect x="1119" y="823" width="3" height="4" fill="#1257c9"/>
<rect x="1121" y="823" width="3" height="4" fill="#e5190b"/>
<rect x="1123" y="823" width="3" height="4" fill="#e5190b"/>
<rect x="1125" y="823" width="3" height="4" fill="#e5190b"/>
<rect x="1128" y="823" width="3" height="4" fill="#e5190b"/>
<rect x="1130" y="823" width="3" height="4" fill="#1257c9"/>
<rect x="1130" y="821" width="2" height="2" fill="#e5190b"/>
<rect x="1132" y="823" width="3" height="4" fill="#1257c9"/>
<rect x="1134" y="823" width="3" height="4" fill="#e5190b"/>
<rect x="1136" y="823" width="3" height="4" fill="#e5190b"/>
<rect x="1138" y="823" width="3" height="4" fill="#1257c9"/>
<rect x="1140" y="823" width="3" height="4" fill="#e5190b"/>
<rect x="1142" y="823" width="3" height="4" fill="#e5190b"/>
<rect x="1145" y="823" width="3" height="4" fill="#1257c9"/>
<rect x="1147" y="823" width="3" height="4" fill="#e5190b"/>
<rect x="1149" y="823" width="3" height="4" fill="#1257c9"/>
<rect x="1151" y="823" width="3" height="4" fill="#1257c9"/>
<rect x="1153" y="823" width="3" height="4" fill="#e5190b"/>
<rect x="1155" y="823" width="3" height="4" fill="#1257c9"/>
<rect x="1157" y="823" width="3" height="4" fill="#e5190b"/>
<rect x="1159" y="823" width="3" height="4" fill="#e5190b"/>
<rect x="1162" y="823" width="3" height="4" fill="#e5190b"/>
<rect x="1164" y="823" width="3" height="4" fill="#1257c9"/>
<rect x="1166" y="823" width="3" height="4" fill="#e5190b"/>
<rect x="1168" y="823" width="3" height="4" fill="#e5190b"/>
<rect x="1170" y="823" width="3" height="4" fill="#e5190b"/>
<rect x="1172" y="823" width="3" height="4" fill="#e5190b"/>
<rect x="1174" y="823" width="3" height="4" fill="#1257c9"/>
<rect x="1176" y="823" width="3" height="4" fill="#e5190b"/>
<rect x="1179" y="823" width="3" height="4" fill="#e5190b"/>
<rect x="1181" y="823" width="3" height="4" fill="#e5190b"/>
<rect x="1183" y="823" width="3" height="4" fill="#1257c9"/>
<rect x="1185" y="823" width="3" height="4" fill="#e5190b"/>
<rect x="1187" y="823" width="3" height="4" fill="#1257c9"/>
<rect x="1189" y="823" width="3" height="4" fill="#1257c9"/>
<rect x="1191" y="823" width="3" height="4" fill="#1257c9"/>
<rect x="1191" y="821" width="2" height="2" fill="#e5190b"/>
<rect x="1193" y="823" width="3" height="4" fill="#1257c9"/>
<rect x="1196" y="823" width="3" height="4" fill="#e5190b"/>
<rect x="1196" y="821" width="2" height="2" fill="#e5190b"/>
<rect x="1198" y="823" width="3" height="4" fill="#1257c9"/>
<rect x="24" y="822" width="16" height="1.5" fill="#e020c0"/>
<rect x="80" y="822" width="23" height="1.5" fill="#e020c0"/>
<rect x="104" y="822" width="12" height="1.5" fill="#f0a800"/>
<rect x="300" y="822" width="12" height="1.5" fill="#e020c0"/>
<rect x="322" y="822" width="8" height="1.5" fill="#e020c0"/>
<rect x="350" y="822" width="10" height="1.5" fill="#e020c0"/>
<rect x="372" y="822" width="8" height="1.5" fill="#e020c0"/>
<rect x="405" y="822" width="11" height="1.5" fill="#e020c0"/>
<rect x="416" y="822" width="6" height="1.5" fill="#f0a800"/>
<rect x="930" y="822" width="10" height="1.5" fill="#e020c0"/>
<rect x="960" y="822" width="15" height="1.5" fill="#e020c0"/>
<rect x="975" y="822" width="25" height="1.5" fill="#20a040"/>
<rect x="1000" y="822" width="30" height="1.5" fill="#f0a800"/>
<rect x="1105" y="822" width="10" height="1.5" fill="#e020c0"/>
<rect x="1120" y="822" width="30" height="1.5" fill="#f0a800"/>
<rect x="1140" y="822" width="20" height="1.5" fill="#20a040"/>
<rect x="1232" y="805" width="7" height="1" fill="#777"/>
<rect x="1232" y="788" width="4" height="1" fill="#888"/>
<rect x="1232" y="772" width="4" height="1" fill="#888"/>
<rect x="1232" y="755" width="4" height="1" fill="#888"/>
<rect x="1232" y="739" width="4" height="1" fill="#888"/>
<rect x="1232" y="722" width="7" height="1" fill="#777"/>
<rect x="1232" y="706" width="4" height="1" fill="#888"/>
<rect x="1232" y="689" width="4" height="1" fill="#888"/>
<rect x="1232" y="673" width="4" height="1" fill="#888"/>
<rect x="1232" y="656" width="4" height="1" fill="#888"/>
<rect x="1232" y="640" width="7" height="1" fill="#777"/>
<rect x="1232" y="623" width="4" height="1" fill="#888"/>
<rect x="1232" y="607" width="4" height="1" fill="#888"/>
<rect x="1232" y="590" width="4" height="1" fill="#888"/>
<rect x="1232" y="574" width="4" height="1" fill="#888"/>
<rect x="1232" y="557" width="7" height="1" fill="#777"/>
<rect x="1232" y="541" width="4" height="1" fill="#888"/>
<rect x="1232" y="524" width="4" height="1" fill="#888"/>
<rect x="1232" y="508" width="4" height="1" fill="#888"/>
<rect x="1232" y="491" width="4" height="1" fill="#888"/>
<rect x="1232" y="475" width="7" height="1" fill="#777"/>
<rect x="1232" y="458" width="4" height="1" fill="#888"/>
<rect x="1232" y="442" width="4" height="1" fill="#888"/>
<rect x="1232" y="425" width="4" height="1" fill="#888"/>
<rect x="1232" y="409" width="4" height="1" fill="#888"/>
<rect x="1232" y="392" width="7" height="1" fill="#777"/>
<rect x="1232" y="376" width="4" height="1" fill="#888"/>
<rect x="1232" y="359" width="4" height="1" fill="#888"/>
<rect x="1232" y="343" width="4" height="1" fill="#888"/>
<rect x="1232" y="326" width="4" height="1" fill="#888"/>
<rect x="1232" y="310" width="7" height="1" fill="#777"/>
<rect x="1232" y="293" width="4" height="1" fill="#888"/>
<rect x="1232" y="277" width="4" height="1" fill="#888"/>
<rect x="1232" y="260" width="4" height="1" fill="#888"/>
<rect x="1232" y="244" width="4" height="1" fill="#888"/>
<rect x="1232" y="227" width="7" height="1" fill="#777"/>
<rect x="1232" y="211" width="4" height="1" fill="#888"/>
<rect x="1232" y="194" width="4" height="1" fill="#888"/>
<rect x="1232" y="178" width="4" height="1" fill="#888"/>
<rect x="1232" y="161" width="4" height="1" fill="#888"/>
<rect x="1232" y="145" width="7" height="1" fill="#777"/>
<rect x="1232" y="128" width="4" height="1" fill="#888"/>
<rect x="1232" y="112" width="4" height="1" fill="#888"/>
<rect x="1232" y="95" width="4" height="1" fill="#888"/>
<rect x="1232" y="79" width="4" height="1" fill="#888"/>
</g>
<clipPath id="cc"><rect x="21" y="75" width="1211" height="743"/></clipPath>
<g clip-path="url(#cc)">
<path d="M20.6,660.0 C27.2,658.5 46.2,654.2 60.0,651.0 C73.8,647.8 89.2,643.7 103.6,641.0 C118.0,638.3 131.0,637.7 146.3,634.9 C161.6,632.1 182.4,626.8 195.5,624.0 C208.6,621.2 210.9,620.1 225.0,618.4 C239.1,616.6 263.0,615.0 280.0,613.5 C297.0,612.0 310.3,611.0 327.0,609.6 C343.7,608.2 365.3,607.0 380.0,605.0 C394.7,603.0 401.7,600.1 415.0,597.6 C428.3,595.1 444.6,592.7 460.0,590.3 C475.4,587.9 492.6,585.2 507.6,583.0 C522.6,580.8 535.5,579.3 550.0,577.3 C564.5,575.3 582.0,572.6 594.5,571.0 C607.0,569.4 610.5,569.6 625.0,567.5 C639.5,565.4 664.1,560.9 681.6,558.5 C699.1,556.1 714.8,554.7 730.0,553.0 C745.2,551.3 761.9,549.6 772.7,548.5 C783.5,547.4 785.5,547.1 795.0,546.5 C804.5,545.9 818.3,545.4 830.0,545.0 C841.7,544.6 852.2,544.6 865.0,544.0 C877.8,543.4 892.3,542.5 906.7,541.5 C921.1,540.5 937.7,539.2 951.6,538.0 C965.5,536.8 975.8,536.2 990.0,534.0 C1004.2,531.8 1021.0,527.2 1036.6,524.8 C1052.2,522.3 1068.0,521.0 1083.5,519.3 C1099.0,517.6 1115.2,516.4 1129.7,514.7 C1144.2,513.0 1159.1,510.7 1170.5,509.3 C1181.9,507.9 1193.6,507.0 1198.2,506.5" fill="none" stroke="#000" stroke-width="6.8" stroke-linecap="round" stroke-linejoin="round"/>
<path d="M21.4,508.8 C23.0,510.5 27.5,514.6 31.0,519.0 C34.5,523.4 38.5,529.6 42.2,535.2 C45.9,540.9 49.1,548.4 53.4,552.9 C57.7,557.4 62.3,556.9 67.9,562.5 C73.5,568.1 81.7,580.4 87.0,586.5 C92.3,592.6 96.0,594.2 100.0,599.0 C104.0,603.8 107.0,608.5 111.0,615.0 C115.0,621.5 119.7,631.8 124.0,637.8 C128.3,643.8 132.2,647.0 136.7,651.0 C141.2,655.0 146.7,659.9 151.0,661.7 C155.3,663.5 158.4,662.7 162.4,662.0 C166.4,661.3 170.7,659.6 175.0,657.7 C179.3,655.8 184.0,652.1 188.0,650.5 C192.0,648.9 195.0,648.2 199.0,648.0 C203.0,647.8 207.7,648.3 212.0,649.0 C216.3,649.7 220.5,651.4 225.0,652.0 C229.5,652.6 234.0,652.1 239.0,652.9 C244.0,653.7 251.0,655.3 255.0,656.9 C259.0,658.5 259.0,661.0 263.0,662.5 C267.0,664.0 274.4,664.1 279.0,665.7 C283.6,667.3 286.0,668.4 290.3,672.0 C294.6,675.6 299.9,682.8 304.7,687.3 C309.5,691.8 314.7,695.4 319.0,699.3 C323.3,703.2 326.3,707.7 330.3,710.5 C334.3,713.3 339.2,714.5 343.0,716.0 C346.8,717.5 349.3,717.3 352.8,719.3 C356.3,721.3 360.3,725.6 364.0,728.0 C367.7,730.4 371.5,732.5 375.0,733.8 C378.5,735.1 381.3,735.8 384.8,736.0 C388.3,736.2 392.3,736.2 396.0,735.3 C399.7,734.4 403.5,732.2 407.0,730.7 C410.5,729.2 412.7,728.5 417.0,726.5 C421.3,724.5 428.2,721.7 433.0,718.5 C437.8,715.3 441.6,709.6 445.9,707.3 C450.2,705.0 453.9,705.6 458.7,704.9 C463.5,704.2 469.9,704.0 474.7,703.3 C479.5,702.6 483.2,702.1 487.5,700.9 C491.8,699.7 496.1,699.0 500.3,696.0 C504.6,693.0 508.2,687.7 513.0,683.2 C517.8,678.7 523.4,672.9 529.0,668.8 C534.6,664.7 540.1,661.5 546.8,658.4 C553.5,655.3 562.1,652.9 569.0,650.4 C575.9,647.9 582.2,646.6 588.0,643.3 C593.8,640.0 597.8,637.0 604.0,630.5 C610.2,624.0 616.2,614.1 625.0,604.0 C633.8,593.9 649.8,577.7 657.0,570.0 C664.2,562.3 664.3,562.7 668.3,558.0 C672.3,553.3 676.7,547.3 681.0,542.0 C685.3,536.7 689.7,530.2 694.0,526.0 C698.3,521.8 702.2,520.0 706.7,516.5 C711.2,513.0 716.0,508.8 721.0,505.3 C726.0,501.8 731.9,498.0 737.0,495.7 C742.1,493.4 747.3,492.4 751.6,491.7 C755.9,491.0 758.6,491.1 762.8,491.7 C767.0,492.2 773.3,494.1 777.0,495.0 C780.7,495.9 781.5,496.4 785.0,496.8 C788.5,497.2 793.8,496.7 797.8,497.6 C801.8,498.5 805.3,500.1 809.0,502.4 C812.7,504.7 816.0,508.8 820.0,511.3 C824.0,513.9 828.2,517.0 833.0,517.7 C837.8,518.4 843.7,516.9 849.0,515.3 C854.3,513.7 859.7,509.9 865.0,508.0 C870.3,506.1 875.7,506.1 881.0,504.0 C886.3,501.9 891.7,498.8 897.0,495.2 C902.3,491.6 907.7,486.9 913.0,482.4 C918.3,477.9 924.7,471.7 929.0,468.0 C933.3,464.3 935.0,464.2 938.8,460.0 C942.6,455.8 947.7,448.3 951.7,442.5 C955.7,436.7 958.7,431.9 963.0,425.0 C967.3,418.1 972.3,407.2 977.4,400.9 C982.5,394.6 989.3,390.6 993.4,387.0 C997.5,383.4 998.4,383.1 1002.0,379.5 C1005.6,375.9 1010.7,370.2 1015.0,365.5 C1019.3,360.8 1023.2,355.5 1027.7,351.0 C1032.2,346.5 1037.0,342.8 1042.0,338.5 C1047.0,334.2 1053.7,328.3 1058.0,325.3 C1062.3,322.3 1063.5,322.2 1067.8,320.5 C1072.1,318.8 1077.9,317.3 1083.8,314.9 C1089.7,312.5 1096.6,309.2 1103.0,306.0 C1109.4,302.8 1117.0,298.6 1122.0,295.6 C1127.0,292.6 1128.5,291.1 1133.0,288.0 C1137.5,284.9 1143.1,281.8 1149.0,277.0 C1154.9,272.2 1163.0,264.2 1168.3,259.3 C1173.6,254.4 1177.3,251.3 1181.0,247.3 C1184.7,243.3 1187.8,238.3 1190.7,235.3 C1193.7,232.3 1197.4,230.2 1198.7,229.2" fill="none" stroke="#ff0000" stroke-width="6.7" stroke-linecap="round" stroke-linejoin="round"/>
</g>
<g shape-rendering="crispEdges">
<rect x="21" y="575" width="3" height="39" fill="#1257c9"/>
<rect x="22" y="573" width="1" height="42" fill="#1257c9"/>
<rect x="23" y="616" width="3" height="13" fill="#1257c9"/>
<rect x="24" y="614" width="1" height="26" fill="#1257c9"/>
<rect x="25" y="645" width="3" height="27" fill="#1257c9"/>
<rect x="26" y="640" width="1" height="35" fill="#1257c9"/>
<rect x="27" y="648" width="3" height="16" fill="#1257c9"/>
<rect x="28" y="647" width="1" height="28" fill="#1257c9"/>
<rect x="29" y="669" width="3" height="24" fill="#1257c9"/>
<rect x="30" y="666" width="1" height="29" fill="#1257c9"/>
<rect x="32" y="691" width="3" height="15" fill="#e5190b"/>
<rect x="33" y="690" width="1" height="24" fill="#e5190b"/>
<rect x="34" y="654" width="3" height="23" fill="#e5190b"/>
<rect x="35" y="651" width="1" height="29" fill="#e5190b"/>
<rect x="36" y="661" width="3" height="6" fill="#1257c9"/>
<rect x="37" y="659" width="1" height="10" fill="#1257c9"/>
<rect x="38" y="641" width="3" height="7" fill="#e5190b"/>
<rect x="39" y="638" width="1" height="23" fill="#e5190b"/>
<rect x="40" y="656" width="3" height="32" fill="#1257c9"/>
<rect x="41" y="654" width="1" height="39" fill="#1257c9"/>
<rect x="42" y="677" width="3" height="16" fill="#e5190b"/>
<rect x="43" y="675" width="1" height="21" fill="#e5190b"/>
<rect x="44" y="677" width="3" height="16" fill="#1257c9"/>
<rect x="45" y="676" width="1" height="43" fill="#1257c9"/>
<rect x="46" y="678" width="3" height="12" fill="#e5190b"/>
<rect x="47" y="675" width="1" height="21" fill="#e5190b"/>
<rect x="49" y="693" width="3" height="8" fill="#1257c9"/>
<rect x="50" y="692" width="1" height="23" fill="#1257c9"/>
<rect x="51" y="680" width="3" height="24" fill="#e5190b"/>
<rect x="52" y="679" width="1" height="27" fill="#e5190b"/>
<rect x="53" y="661" width="3" height="27" fill="#e5190b"/>
<rect x="54" y="656" width="1" height="34" fill="#e5190b"/>
<rect x="55" y="629" width="3" height="22" fill="#e5190b"/>
<rect x="56" y="628" width="1" height="25" fill="#e5190b"/>
<rect x="57" y="624" width="3" height="13" fill="#1257c9"/>
<rect x="58" y="623" width="1" height="16" fill="#1257c9"/>
<rect x="59" y="629" width="3" height="14" fill="#1257c9"/>
<rect x="60" y="626" width="1" height="22" fill="#1257c9"/>
<rect x="61" y="613" width="3" height="27" fill="#e5190b"/>
<rect x="62" y="611" width="1" height="34" fill="#e5190b"/>
<rect x="63" y="627" width="3" height="13" fill="#1257c9"/>
<rect x="64" y="625" width="1" height="16" fill="#1257c9"/>
<rect x="66" y="624" width="3" height="14" fill="#1257c9"/>
<rect x="67" y="619" width="1" height="22" fill="#1257c9"/>
<rect x="68" y="626" width="3" height="20" fill="#e5190b"/>
<rect x="69" y="624" width="1" height="24" fill="#e5190b"/>
<rect x="70" y="627" width="3" height="7" fill="#1257c9"/>
<rect x="71" y="620" width="1" height="16" fill="#1257c9"/>
<rect x="72" y="638" width="3" height="23" fill="#1257c9"/>
<rect x="73" y="637" width="1" height="26" fill="#1257c9"/>
<rect x="74" y="675" width="3" height="20" fill="#1257c9"/>
<rect x="75" y="674" width="1" height="24" fill="#1257c9"/>
<rect x="76" y="722" width="3" height="22" fill="#1257c9"/>
<rect x="77" y="716" width="1" height="33" fill="#1257c9"/>
<rect x="78" y="741" width="3" height="8" fill="#1257c9"/>
<rect x="79" y="739" width="1" height="18" fill="#1257c9"/>
<rect x="80" y="727" width="3" height="11" fill="#e5190b"/>
<rect x="81" y="715" width="1" height="31" fill="#e5190b"/>
<rect x="83" y="750" width="3" height="14" fill="#1257c9"/>
<rect x="84" y="748" width="1" height="23" fill="#1257c9"/>
<rect x="85" y="751" width="3" height="9" fill="#e5190b"/>
<rect x="86" y="744" width="1" height="21" fill="#e5190b"/>
<rect x="87" y="728" width="3" height="9" fill="#e5190b"/>
<rect x="88" y="727" width="1" height="12" fill="#e5190b"/>
<rect x="89" y="730" width="3" height="9" fill="#e5190b"/>
<rect x="90" y="717" width="1" height="24" fill="#e5190b"/>
<rect x="91" y="703" width="3" height="9" fill="#e5190b"/>
<rect x="92" y="700" width="1" height="23" fill="#e5190b"/>
<rect x="93" y="672" width="3" height="23" fill="#e5190b"/>
<rect x="94" y="670" width="1" height="26" fill="#e5190b"/>
<rect x="95" y="667" width="3" height="13" fill="#1257c9"/>
<rect x="96" y="666" width="1" height="16" fill="#1257c9"/>
<rect x="97" y="677" width="3" height="30" fill="#1257c9"/>
<rect x="98" y="675" width="1" height="33" fill="#1257c9"/>
<rect x="100" y="704" width="3" height="5" fill="#e5190b"/>
<rect x="101" y="702" width="1" height="15" fill="#e5190b"/>
<rect x="102" y="712" width="3" height="8" fill="#1257c9"/>
<rect x="103" y="711" width="1" height="24" fill="#1257c9"/>
<rect x="104" y="710" width="3" height="4" fill="#e5190b"/>
<rect x="105" y="709" width="1" height="5" fill="#e5190b"/>
<rect x="106" y="695" width="3" height="30" fill="#e5190b"/>
<rect x="107" y="692" width="1" height="38" fill="#e5190b"/>
<rect x="108" y="691" width="3" height="4" fill="#e5190b"/>
<rect x="109" y="690" width="1" height="9" fill="#e5190b"/>
<rect x="110" y="669" width="3" height="19" fill="#e5190b"/>
<rect x="111" y="668" width="1" height="22" fill="#e5190b"/>
<rect x="112" y="669" width="3" height="11" fill="#e5190b"/>
<rect x="113" y="665" width="1" height="18" fill="#e5190b"/>
<rect x="114" y="678" width="3" height="15" fill="#1257c9"/>
<rect x="115" y="678" width="1" height="17" fill="#1257c9"/>
<rect x="117" y="686" width="3" height="15" fill="#1257c9"/>
<rect x="118" y="685" width="1" height="21" fill="#1257c9"/>
<rect x="119" y="701" width="3" height="18" fill="#e5190b"/>
<rect x="120" y="698" width="1" height="25" fill="#e5190b"/>
<rect x="121" y="703" width="3" height="9" fill="#e5190b"/>
<rect x="122" y="700" width="1" height="15" fill="#e5190b"/>
<rect x="123" y="685" width="3" height="7" fill="#e5190b"/>
<rect x="124" y="684" width="1" height="12" fill="#e5190b"/>
<rect x="125" y="675" width="3" height="18" fill="#1257c9"/>
<rect x="126" y="670" width="1" height="26" fill="#1257c9"/>
<rect x="127" y="663" width="3" height="17" fill="#e5190b"/>
<rect x="128" y="662" width="1" height="19" fill="#e5190b"/>
<rect x="129" y="648" width="3" height="16" fill="#e5190b"/>
<rect x="130" y="645" width="1" height="22" fill="#e5190b"/>
<rect x="131" y="635" width="3" height="19" fill="#e5190b"/>
<rect x="132" y="634" width="1" height="21" fill="#e5190b"/>
<rect x="134" y="637" width="3" height="17" fill="#1257c9"/>
<rect x="135" y="632" width="1" height="24" fill="#1257c9"/>
<rect x="136" y="650" width="3" height="8" fill="#1257c9"/>
<rect x="137" y="649" width="1" height="10" fill="#1257c9"/>
<rect x="138" y="663" width="3" height="12" fill="#1257c9"/>
<rect x="139" y="661" width="1" height="17" fill="#1257c9"/>
<rect x="140" y="638" width="3" height="23" fill="#e5190b"/>
<rect x="141" y="637" width="1" height="27" fill="#e5190b"/>
<rect x="142" y="626" width="3" height="11" fill="#e5190b"/>
<rect x="143" y="625" width="1" height="25" fill="#e5190b"/>
<rect x="144" y="604" width="3" height="19" fill="#e5190b"/>
<rect x="145" y="599" width="1" height="28" fill="#e5190b"/>
<rect x="146" y="599" width="3" height="13" fill="#e5190b"/>
<rect x="147" y="598" width="1" height="16" fill="#e5190b"/>
<rect x="148" y="611" width="3" height="8" fill="#e5190b"/>
<rect x="149" y="609" width="1" height="12" fill="#e5190b"/>
<rect x="151" y="583" width="3" height="21" fill="#e5190b"/>
<rect x="152" y="581" width="1" height="25" fill="#e5190b"/>
<rect x="153" y="580" width="3" height="16" fill="#e5190b"/>
<rect x="154" y="579" width="1" height="19" fill="#e5190b"/>
<rect x="155" y="585" width="3" height="11" fill="#e5190b"/>
<rect x="156" y="583" width="1" height="14" fill="#e5190b"/>
<rect x="157" y="582" width="3" height="4" fill="#1257c9"/>
<rect x="158" y="569" width="1" height="20" fill="#1257c9"/>
<rect x="159" y="594" width="3" height="5" fill="#1257c9"/>
<rect x="160" y="591" width="1" height="12" fill="#1257c9"/>
<rect x="161" y="570" width="3" height="5" fill="#e5190b"/>
<rect x="162" y="569" width="1" height="13" fill="#e5190b"/>
<rect x="163" y="562" width="3" height="13" fill="#1257c9"/>
<rect x="164" y="555" width="1" height="23" fill="#1257c9"/>
<rect x="165" y="553" width="3" height="16" fill="#e5190b"/>
<rect x="166" y="550" width="1" height="22" fill="#e5190b"/>
<rect x="168" y="546" width="3" height="13" fill="#e5190b"/>
<rect x="169" y="544" width="1" height="17" fill="#e5190b"/>
<rect x="170" y="545" width="3" height="9" fill="#e5190b"/>
<rect x="171" y="542" width="1" height="14" fill="#e5190b"/>
<rect x="172" y="560" width="3" height="2" fill="#1257c9"/>
<rect x="173" y="553" width="1" height="15" fill="#1257c9"/>
<rect x="174" y="560" width="3" height="2" fill="#e5190b"/>
<rect x="175" y="559" width="1" height="10" fill="#e5190b"/>
<rect x="176" y="570" width="3" height="11" fill="#1257c9"/>
<rect x="177" y="569" width="1" height="16" fill="#1257c9"/>
<rect x="178" y="596" width="3" height="12" fill="#1257c9"/>
<rect x="179" y="595" width="1" height="16" fill="#1257c9"/>
<rect x="180" y="599" width="3" height="5" fill="#e5190b"/>
<rect x="181" y="599" width="1" height="12" fill="#e5190b"/>
<rect x="182" y="604" width="3" height="6" fill="#e5190b"/>
<rect x="183" y="602" width="1" height="10" fill="#e5190b"/>
<rect x="185" y="587" width="3" height="14" fill="#e5190b"/>
<rect x="186" y="587" width="1" height="15" fill="#e5190b"/>
<rect x="187" y="587" width="3" height="42" fill="#1257c9"/>
<rect x="188" y="585" width="1" height="45" fill="#1257c9"/>
<rect x="189" y="619" width="3" height="6" fill="#1257c9"/>
<rect x="190" y="618" width="1" height="8" fill="#1257c9"/>
<rect x="191" y="631" width="3" height="19" fill="#1257c9"/>
<rect x="192" y="631" width="1" height="26" fill="#1257c9"/>
<rect x="193" y="642" width="3" height="13" fill="#1257c9"/>
<rect x="194" y="637" width="1" height="19" fill="#1257c9"/>
<rect x="195" y="656" width="3" height="21" fill="#e5190b"/>
<rect x="196" y="655" width="1" height="23" fill="#e5190b"/>
<rect x="197" y="646" width="3" height="31" fill="#1257c9"/>
<rect x="198" y="644" width="1" height="39" fill="#1257c9"/>
<rect x="199" y="659" width="3" height="6" fill="#e5190b"/>
<rect x="200" y="658" width="1" height="8" fill="#e5190b"/>
<rect x="202" y="661" width="3" height="15" fill="#e5190b"/>
<rect x="203" y="658" width="1" height="20" fill="#e5190b"/>
<rect x="204" y="651" width="3" height="16" fill="#e5190b"/>
<rect x="205" y="648" width="1" height="20" fill="#e5190b"/>
<rect x="206" y="630" width="3" height="13" fill="#e5190b"/>
<rect x="207" y="629" width="1" height="16" fill="#e5190b"/>
<rect x="208" y="618" width="3" height="8" fill="#e5190b"/>
<rect x="209" y="617" width="1" height="10" fill="#e5190b"/>
<rect x="210" y="646" width="3" height="24" fill="#1257c9"/>
<rect x="211" y="643" width="1" height="28" fill="#1257c9"/>
<rect x="212" y="663" width="3" height="3" fill="#e5190b"/>
<rect x="213" y="659" width="1" height="10" fill="#e5190b"/>
<rect x="214" y="669" width="3" height="7" fill="#1257c9"/>
<rect x="215" y="666" width="1" height="15" fill="#1257c9"/>
<rect x="216" y="677" width="3" height="4" fill="#e5190b"/>
<rect x="217" y="676" width="1" height="7" fill="#e5190b"/>
<rect x="219" y="678" width="3" height="17" fill="#e5190b"/>
<rect x="220" y="678" width="1" height="19" fill="#e5190b"/>
<rect x="221" y="685" width="3" height="19" fill="#1257c9"/>
<rect x="222" y="684" width="1" height="21" fill="#1257c9"/>
<rect x="223" y="709" width="3" height="8" fill="#1257c9"/>
<rect x="224" y="708" width="1" height="12" fill="#1257c9"/>
<rect x="225" y="707" width="3" height="10" fill="#1257c9"/>
<rect x="226" y="706" width="1" height="14" fill="#1257c9"/>
<rect x="227" y="727" width="3" height="11" fill="#1257c9"/>
<rect x="228" y="726" width="1" height="18" fill="#1257c9"/>
<rect x="229" y="722" width="3" height="17" fill="#1257c9"/>
<rect x="230" y="719" width="1" height="22" fill="#1257c9"/>
<rect x="231" y="728" width="3" height="13" fill="#1257c9"/>
<rect x="232" y="726" width="1" height="16" fill="#1257c9"/>
<rect x="233" y="718" width="3" height="21" fill="#e5190b"/>
<rect x="234" y="715" width="1" height="26" fill="#e5190b"/>
<rect x="236" y="735" width="3" height="16" fill="#1257c9"/>
<rect x="237" y="734" width="1" height="18" fill="#1257c9"/>
<rect x="238" y="747" width="3" height="13" fill="#1257c9"/>
<rect x="239" y="744" width="1" height="19" fill="#1257c9"/>
<rect x="240" y="739" width="3" height="15" fill="#e5190b"/>
<rect x="241" y="737" width="1" height="18" fill="#e5190b"/>
<rect x="242" y="707" width="3" height="11" fill="#e5190b"/>
<rect x="243" y="705" width="1" height="14" fill="#e5190b"/>
<rect x="244" y="711" width="3" height="9" fill="#e5190b"/>
<rect x="245" y="708" width="1" height="21" fill="#e5190b"/>
<rect x="246" y="711" width="3" height="7" fill="#1257c9"/>
<rect x="247" y="703" width="1" height="17" fill="#1257c9"/>
<rect x="248" y="735" width="3" height="19" fill="#1257c9"/>
<rect x="249" y="732" width="1" height="23" fill="#1257c9"/>
<rect x="250" y="752" width="3" height="11" fill="#1257c9"/>
<rect x="251" y="751" width="1" height="15" fill="#1257c9"/>
<rect x="253" y="767" width="3" height="6" fill="#1257c9"/>
<rect x="254" y="764" width="1" height="14" fill="#1257c9"/>
<rect x="255" y="767" width="3" height="8" fill="#e5190b"/>
<rect x="256" y="765" width="1" height="13" fill="#e5190b"/>
<rect x="257" y="750" width="3" height="48" fill="#e5190b"/>
<rect x="258" y="747" width="1" height="52" fill="#e5190b"/>
<rect x="259" y="745" width="3" height="36" fill="#1257c9"/>
<rect x="260" y="743" width="1" height="39" fill="#1257c9"/>
<rect x="261" y="751" width="3" height="9" fill="#e5190b"/>
<rect x="262" y="750" width="1" height="12" fill="#e5190b"/>
<rect x="263" y="727" width="3" height="17" fill="#1257c9"/>
<rect x="264" y="727" width="1" height="18" fill="#1257c9"/>
<rect x="265" y="744" width="3" height="7" fill="#1257c9"/>
<rect x="266" y="743" width="1" height="9" fill="#1257c9"/>
<rect x="267" y="751" width="3" height="8" fill="#1257c9"/>
<rect x="268" y="748" width="1" height="13" fill="#1257c9"/>
<rect x="270" y="737" width="3" height="23" fill="#e5190b"/>
<rect x="271" y="735" width="1" height="28" fill="#e5190b"/>
<rect x="272" y="728" width="3" height="8" fill="#e5190b"/>
<rect x="273" y="725" width="1" height="14" fill="#e5190b"/>
<rect x="274" y="708" width="3" height="17" fill="#e5190b"/>
<rect x="275" y="706" width="1" height="22" fill="#e5190b"/>
<rect x="276" y="727" width="3" height="1" fill="#e5190b"/>
<rect x="277" y="725" width="1" height="4" fill="#e5190b"/>
<rect x="278" y="725" width="3" height="17" fill="#1257c9"/>
<rect x="279" y="724" width="1" height="19" fill="#1257c9"/>
<rect x="280" y="716" width="3" height="27" fill="#e5190b"/>
<rect x="281" y="715" width="1" height="30" fill="#e5190b"/>
<rect x="282" y="721" width="3" height="6" fill="#1257c9"/>
<rect x="283" y="718" width="1" height="11" fill="#1257c9"/>
<rect x="284" y="712" width="3" height="22" fill="#1257c9"/>
<rect x="285" y="710" width="1" height="26" fill="#1257c9"/>
<rect x="287" y="735" width="3" height="28" fill="#1257c9"/>
<rect x="288" y="732" width="1" height="32" fill="#1257c9"/>
<rect x="289" y="775" width="3" height="4" fill="#1257c9"/>
<rect x="290" y="772" width="1" height="10" fill="#1257c9"/>
<rect x="291" y="766" width="3" height="8" fill="#1257c9"/>
<rect x="292" y="763" width="1" height="23" fill="#1257c9"/>
<rect x="293" y="761" width="3" height="4" fill="#e5190b"/>
<rect x="294" y="759" width="1" height="12" fill="#e5190b"/>
<rect x="295" y="757" width="3" height="1" fill="#e5190b"/>
<rect x="296" y="746" width="1" height="21" fill="#e5190b"/>
<rect x="297" y="763" width="3" height="15" fill="#1257c9"/>
<rect x="298" y="760" width="1" height="19" fill="#1257c9"/>
<rect x="299" y="715" width="3" height="21" fill="#e5190b"/>
<rect x="300" y="714" width="1" height="29" fill="#e5190b"/>
<rect x="301" y="695" width="3" height="17" fill="#e5190b"/>
<rect x="302" y="694" width="1" height="21" fill="#e5190b"/>
<rect x="303" y="703" width="3" height="4" fill="#1257c9"/>
<rect x="304" y="702" width="1" height="8" fill="#1257c9"/>
<rect x="306" y="682" width="3" height="11" fill="#1257c9"/>
<rect x="307" y="679" width="1" height="25" fill="#1257c9"/>
<rect x="308" y="700" width="3" height="9" fill="#1257c9"/>
<rect x="309" y="699" width="1" height="11" fill="#1257c9"/>
<rect x="310" y="711" width="3" height="11" fill="#e5190b"/>
<rect x="311" y="708" width="1" height="16" fill="#e5190b"/>
<rect x="312" y="702" width="3" height="8" fill="#1257c9"/>
<rect x="313" y="701" width="1" height="10" fill="#1257c9"/>
<rect x="314" y="715" width="3" height="5" fill="#1257c9"/>
<rect x="315" y="714" width="1" height="9" fill="#1257c9"/>
<rect x="316" y="709" width="3" height="9" fill="#e5190b"/>
<rect x="317" y="706" width="1" height="18" fill="#e5190b"/>
<rect x="318" y="699" width="3" height="8" fill="#e5190b"/>
<rect x="319" y="698" width="1" height="12" fill="#e5190b"/>
<rect x="320" y="703" width="3" height="2" fill="#1257c9"/>
<rect x="321" y="699" width="1" height="10" fill="#1257c9"/>
<rect x="323" y="709" width="3" height="11" fill="#1257c9"/>
<rect x="324" y="706" width="1" height="21" fill="#1257c9"/>
<rect x="325" y="704" width="3" height="7" fill="#e5190b"/>
<rect x="326" y="702" width="1" height="10" fill="#e5190b"/>
<rect x="327" y="683" width="3" height="40" fill="#e5190b"/>
<rect x="328" y="681" width="1" height="43" fill="#e5190b"/>
<rect x="329" y="680" width="3" height="10" fill="#e5190b"/>
<rect x="330" y="678" width="1" height="12" fill="#e5190b"/>
<rect x="331" y="683" width="3" height="15" fill="#e5190b"/>
<rect x="332" y="681" width="1" height="20" fill="#e5190b"/>
<rect x="333" y="691" width="3" height="12" fill="#1257c9"/>
<rect x="334" y="689" width="1" height="15" fill="#1257c9"/>
<rect x="335" y="703" width="3" height="17" fill="#1257c9"/>
<rect x="336" y="700" width="1" height="22" fill="#1257c9"/>
<rect x="337" y="722" width="3" height="3" fill="#1257c9"/>
<rect x="338" y="719" width="1" height="10" fill="#1257c9"/>
<rect x="340" y="713" width="3" height="8" fill="#e5190b"/>
<rect x="341" y="710" width="1" height="17" fill="#e5190b"/>
<rect x="342" y="720" width="3" height="2" fill="#e5190b"/>
<rect x="343" y="719" width="1" height="4" fill="#e5190b"/>
<rect x="344" y="711" width="3" height="9" fill="#e5190b"/>
<rect x="345" y="709" width="1" height="12" fill="#e5190b"/>
<rect x="346" y="677" width="3" height="24" fill="#1257c9"/>
<rect x="347" y="675" width="1" height="28" fill="#1257c9"/>
<rect x="348" y="702" width="3" height="7" fill="#1257c9"/>
<rect x="349" y="694" width="1" height="16" fill="#1257c9"/>
<rect x="350" y="723" width="3" height="18" fill="#1257c9"/>
<rect x="351" y="722" width="1" height="20" fill="#1257c9"/>
<rect x="352" y="743" width="3" height="8" fill="#1257c9"/>
<rect x="353" y="740" width="1" height="12" fill="#1257c9"/>
<rect x="354" y="749" width="3" height="13" fill="#1257c9"/>
<rect x="355" y="747" width="1" height="17" fill="#1257c9"/>
<rect x="357" y="758" width="3" height="8" fill="#e5190b"/>
<rect x="358" y="755" width="1" height="16" fill="#e5190b"/>
<rect x="359" y="748" width="3" height="11" fill="#e5190b"/>
<rect x="360" y="745" width="1" height="15" fill="#e5190b"/>
<rect x="361" y="759" width="3" height="7" fill="#1257c9"/>
<rect x="362" y="756" width="1" height="26" fill="#1257c9"/>
<rect x="363" y="766" width="3" height="5" fill="#e5190b"/>
<rect x="364" y="764" width="1" height="8" fill="#e5190b"/>
<rect x="365" y="769" width="3" height="9" fill="#1257c9"/>
<rect x="366" y="767" width="1" height="11" fill="#1257c9"/>
<rect x="367" y="779" width="3" height="11" fill="#1257c9"/>
<rect x="368" y="778" width="1" height="13" fill="#1257c9"/>
<rect x="369" y="767" width="3" height="14" fill="#e5190b"/>
<rect x="370" y="767" width="1" height="17" fill="#e5190b"/>
<rect x="371" y="773" width="3" height="3" fill="#1257c9"/>
<rect x="372" y="772" width="1" height="6" fill="#1257c9"/>
<rect x="374" y="761" width="3" height="15" fill="#1257c9"/>
<rect x="375" y="757" width="1" height="22" fill="#1257c9"/>
<rect x="376" y="766" width="3" height="9" fill="#1257c9"/>
<rect x="377" y="764" width="1" height="12" fill="#1257c9"/>
<rect x="378" y="775" width="3" height="7" fill="#1257c9"/>
<rect x="379" y="774" width="1" height="10" fill="#1257c9"/>
<rect x="380" y="760" width="3" height="18" fill="#e5190b"/>
<rect x="381" y="758" width="1" height="28" fill="#e5190b"/>
<rect x="382" y="752" width="3" height="3" fill="#1257c9"/>
<rect x="383" y="741" width="1" height="17" fill="#1257c9"/>
<rect x="384" y="744" width="3" height="13" fill="#e5190b"/>
<rect x="385" y="743" width="1" height="16" fill="#e5190b"/>
<rect x="386" y="731" width="3" height="12" fill="#e5190b"/>
<rect x="387" y="729" width="1" height="15" fill="#e5190b"/>
<rect x="388" y="720" width="3" height="10" fill="#e5190b"/>
<rect x="389" y="719" width="1" height="13" fill="#e5190b"/>
<rect x="391" y="715" width="3" height="12" fill="#e5190b"/>
<rect x="392" y="713" width="1" height="15" fill="#e5190b"/>
<rect x="393" y="717" width="3" height="5" fill="#e5190b"/>
<rect x="394" y="714" width="1" height="11" fill="#e5190b"/>
<rect x="395" y="708" width="3" height="19" fill="#1257c9"/>
<rect x="396" y="704" width="1" height="24" fill="#1257c9"/>
<rect x="397" y="731" width="3" height="4" fill="#1257c9"/>
<rect x="398" y="728" width="1" height="11" fill="#1257c9"/>
<rect x="399" y="711" width="3" height="17" fill="#e5190b"/>
<rect x="400" y="708" width="1" height="22" fill="#e5190b"/>
<rect x="401" y="692" width="3" height="12" fill="#e5190b"/>
<rect x="402" y="690" width="1" height="16" fill="#e5190b"/>
<rect x="403" y="695" width="3" height="9" fill="#e5190b"/>
<rect x="404" y="692" width="1" height="14" fill="#e5190b"/>
<rect x="405" y="696" width="3" height="15" fill="#e5190b"/>
<rect x="406" y="694" width="1" height="22" fill="#e5190b"/>
<rect x="408" y="680" width="3" height="4" fill="#e5190b"/>
<rect x="409" y="678" width="1" height="17" fill="#e5190b"/>
<rect x="410" y="673" width="3" height="8" fill="#1257c9"/>
<rect x="411" y="670" width="1" height="13" fill="#1257c9"/>
<rect x="412" y="671" width="3" height="12" fill="#e5190b"/>
<rect x="413" y="666" width="1" height="20" fill="#e5190b"/>
<rect x="414" y="677" width="3" height="14" fill="#1257c9"/>
<rect x="415" y="674" width="1" height="18" fill="#1257c9"/>
<rect x="416" y="674" width="3" height="15" fill="#e5190b"/>
<rect x="417" y="673" width="1" height="19" fill="#e5190b"/>
<rect x="418" y="654" width="3" height="21" fill="#e5190b"/>
<rect x="419" y="647" width="1" height="31" fill="#e5190b"/>
<rect x="420" y="623" width="3" height="11" fill="#e5190b"/>
<rect x="421" y="618" width="1" height="17" fill="#e5190b"/>
<rect x="422" y="627" width="3" height="17" fill="#e5190b"/>
<rect x="423" y="626" width="1" height="20" fill="#e5190b"/>
<rect x="425" y="646" width="3" height="4" fill="#1257c9"/>
<rect x="426" y="646" width="1" height="7" fill="#1257c9"/>
<rect x="427" y="630" width="3" height="20" fill="#e5190b"/>
<rect x="428" y="627" width="1" height="27" fill="#e5190b"/>
<rect x="429" y="634" width="3" height="16" fill="#1257c9"/>
<rect x="430" y="633" width="1" height="17" fill="#1257c9"/>
<rect x="431" y="634" width="3" height="24" fill="#1257c9"/>
<rect x="432" y="632" width="1" height="30" fill="#1257c9"/>
<rect x="433" y="659" width="3" height="4" fill="#e5190b"/>
<rect x="434" y="657" width="1" height="14" fill="#e5190b"/>
<rect x="435" y="647" width="3" height="12" fill="#e5190b"/>
<rect x="436" y="645" width="1" height="15" fill="#e5190b"/>
<rect x="437" y="642" width="3" height="13" fill="#e5190b"/>
<rect x="438" y="639" width="1" height="18" fill="#e5190b"/>
<rect x="439" y="634" width="3" height="16" fill="#e5190b"/>
<rect x="440" y="634" width="1" height="18" fill="#e5190b"/>
<rect x="442" y="648" width="3" height="4" fill="#1257c9"/>
<rect x="443" y="637" width="1" height="18" fill="#1257c9"/>
<rect x="444" y="657" width="3" height="2" fill="#e5190b"/>
<rect x="445" y="656" width="1" height="11" fill="#e5190b"/>
<rect x="446" y="669" width="3" height="13" fill="#1257c9"/>
<rect x="447" y="667" width="1" height="18" fill="#1257c9"/>
<rect x="448" y="675" width="3" height="8" fill="#1257c9"/>
<rect x="449" y="674" width="1" height="12" fill="#1257c9"/>
<rect x="450" y="670" width="3" height="3" fill="#1257c9"/>
<rect x="451" y="668" width="1" height="15" fill="#1257c9"/>
<rect x="452" y="688" width="3" height="1" fill="#1257c9"/>
<rect x="453" y="687" width="1" height="8" fill="#1257c9"/>
<rect x="454" y="676" width="3" height="9" fill="#1257c9"/>
<rect x="455" y="675" width="1" height="13" fill="#1257c9"/>
<rect x="456" y="679" width="3" height="7" fill="#e5190b"/>
<rect x="457" y="676" width="1" height="11" fill="#e5190b"/>
<rect x="459" y="683" width="3" height="10" fill="#1257c9"/>
<rect x="460" y="682" width="1" height="13" fill="#1257c9"/>
<rect x="461" y="683" width="3" height="20" fill="#e5190b"/>
<rect x="462" y="682" width="1" height="22" fill="#e5190b"/>
<rect x="463" y="665" width="3" height="15" fill="#e5190b"/>
<rect x="464" y="664" width="1" height="18" fill="#e5190b"/>
<rect x="465" y="661" width="3" height="6" fill="#1257c9"/>
<rect x="466" y="655" width="1" height="13" fill="#1257c9"/>
<rect x="467" y="667" width="3" height="12" fill="#1257c9"/>
<rect x="468" y="664" width="1" height="17" fill="#1257c9"/>
<rect x="469" y="672" width="3" height="7" fill="#e5190b"/>
<rect x="470" y="671" width="1" height="11" fill="#e5190b"/>
<rect x="471" y="675" width="3" height="20" fill="#1257c9"/>
<rect x="472" y="667" width="1" height="28" fill="#1257c9"/>
<rect x="473" y="695" width="3" height="11" fill="#1257c9"/>
<rect x="474" y="694" width="1" height="21" fill="#1257c9"/>
<rect x="476" y="706" width="3" height="13" fill="#e5190b"/>
<rect x="477" y="704" width="1" height="19" fill="#e5190b"/>
<rect x="478" y="687" width="3" height="8" fill="#e5190b"/>
<rect x="479" y="685" width="1" height="18" fill="#e5190b"/>
<rect x="480" y="686" width="3" height="7" fill="#e5190b"/>
<rect x="481" y="685" width="1" height="11" fill="#e5190b"/>
<rect x="482" y="663" width="3" height="28" fill="#e5190b"/>
<rect x="483" y="660" width="1" height="34" fill="#e5190b"/>
<rect x="484" y="665" width="3" height="6" fill="#1257c9"/>
<rect x="485" y="659" width="1" height="18" fill="#1257c9"/>
<rect x="486" y="666" width="3" height="6" fill="#e5190b"/>
<rect x="487" y="665" width="1" height="12" fill="#e5190b"/>
<rect x="488" y="651" width="3" height="9" fill="#e5190b"/>
<rect x="489" y="649" width="1" height="12" fill="#e5190b"/>
<rect x="490" y="651" width="3" height="16" fill="#1257c9"/>
<rect x="491" y="638" width="1" height="32" fill="#1257c9"/>
<rect x="493" y="652" width="3" height="15" fill="#1257c9"/>
<rect x="494" y="643" width="1" height="25" fill="#1257c9"/>
<rect x="495" y="656" width="3" height="4" fill="#e5190b"/>
<rect x="496" y="655" width="1" height="12" fill="#e5190b"/>
<rect x="497" y="650" width="3" height="10" fill="#1257c9"/>
<rect x="498" y="648" width="1" height="14" fill="#1257c9"/>
<rect x="499" y="660" width="3" height="3" fill="#1257c9"/>
<rect x="500" y="657" width="1" height="14" fill="#1257c9"/>
<rect x="501" y="646" width="3" height="6" fill="#e5190b"/>
<rect x="502" y="643" width="1" height="12" fill="#e5190b"/>
<rect x="503" y="638" width="3" height="1" fill="#e5190b"/>
<rect x="504" y="637" width="1" height="6" fill="#e5190b"/>
<rect x="505" y="622" width="3" height="15" fill="#e5190b"/>
<rect x="506" y="621" width="1" height="19" fill="#e5190b"/>
<rect x="507" y="623" width="3" height="4" fill="#e5190b"/>
<rect x="508" y="622" width="1" height="7" fill="#e5190b"/>
<rect x="510" y="622" width="3" height="8" fill="#1257c9"/>
<rect x="511" y="621" width="1" height="12" fill="#1257c9"/>
<rect x="512" y="632" width="3" height="13" fill="#1257c9"/>
<rect x="513" y="631" width="1" height="16" fill="#1257c9"/>
<rect x="514" y="632" width="3" height="14" fill="#e5190b"/>
<rect x="515" y="631" width="1" height="18" fill="#e5190b"/>
<rect x="516" y="634" width="3" height="9" fill="#e5190b"/>
<rect x="517" y="634" width="1" height="12" fill="#e5190b"/>
<rect x="518" y="633" width="3" height="6" fill="#1257c9"/>
<rect x="519" y="631" width="1" height="11" fill="#1257c9"/>
<rect x="520" y="629" width="3" height="17" fill="#1257c9"/>
<rect x="521" y="628" width="1" height="18" fill="#1257c9"/>
<rect x="522" y="626" width="3" height="14" fill="#e5190b"/>
<rect x="523" y="623" width="1" height="18" fill="#e5190b"/>
<rect x="524" y="623" width="3" height="8" fill="#e5190b"/>
<rect x="525" y="621" width="1" height="12" fill="#e5190b"/>
<rect x="527" y="627" width="3" height="3" fill="#e5190b"/>
<rect x="528" y="626" width="1" height="8" fill="#e5190b"/>
<rect x="529" y="620" width="3" height="7" fill="#1257c9"/>
<rect x="530" y="619" width="1" height="10" fill="#1257c9"/>
<rect x="531" y="627" width="3" height="8" fill="#e5190b"/>
<rect x="532" y="624" width="1" height="12" fill="#e5190b"/>
<rect x="533" y="634" width="3" height="2" fill="#e5190b"/>
<rect x="534" y="634" width="1" height="5" fill="#e5190b"/>
<rect x="535" y="634" width="3" height="2" fill="#e5190b"/>
<rect x="536" y="632" width="1" height="10" fill="#e5190b"/>
<rect x="537" y="635" width="3" height="1" fill="#1257c9"/>
<rect x="538" y="631" width="1" height="11" fill="#1257c9"/>
<rect x="539" y="642" width="3" height="14" fill="#1257c9"/>
<rect x="540" y="641" width="1" height="16" fill="#1257c9"/>
<rect x="541" y="643" width="3" height="12" fill="#1257c9"/>
<rect x="542" y="642" width="1" height="15" fill="#1257c9"/>
<rect x="544" y="628" width="3" height="14" fill="#e5190b"/>
<rect x="545" y="627" width="1" height="17" fill="#e5190b"/>
<rect x="546" y="622" width="3" height="8" fill="#e5190b"/>
<rect x="547" y="618" width="1" height="13" fill="#e5190b"/>
<rect x="548" y="627" width="3" height="4" fill="#1257c9"/>
<rect x="549" y="626" width="1" height="6" fill="#1257c9"/>
<rect x="550" y="623" width="3" height="11" fill="#1257c9"/>
<rect x="551" y="621" width="1" height="17" fill="#1257c9"/>
<rect x="552" y="633" width="3" height="4" fill="#1257c9"/>
<rect x="553" y="622" width="1" height="16" fill="#1257c9"/>
<rect x="554" y="641" width="3" height="1" fill="#1257c9"/>
<rect x="555" y="637" width="1" height="9" fill="#1257c9"/>
<rect x="556" y="619" width="3" height="15" fill="#e5190b"/>
<rect x="557" y="618" width="1" height="17" fill="#e5190b"/>
<rect x="558" y="624" width="3" height="5" fill="#e5190b"/>
<rect x="559" y="623" width="1" height="7" fill="#e5190b"/>
<rect x="560" y="623" width="3" height="3" fill="#1257c9"/>
<rect x="561" y="622" width="1" height="4" fill="#1257c9"/>
<rect x="563" y="613" width="3" height="4" fill="#e5190b"/>
<rect x="564" y="611" width="1" height="13" fill="#e5190b"/>
<rect x="565" y="612" width="3" height="4" fill="#e5190b"/>
<rect x="566" y="610" width="1" height="7" fill="#e5190b"/>
<rect x="567" y="611" width="3" height="5" fill="#1257c9"/>
<rect x="568" y="609" width="1" height="13" fill="#1257c9"/>
<rect x="569" y="610" width="3" height="4" fill="#e5190b"/>
<rect x="570" y="608" width="1" height="9" fill="#e5190b"/>
<rect x="571" y="607" width="3" height="6" fill="#e5190b"/>
<rect x="572" y="606" width="1" height="9" fill="#e5190b"/>
<rect x="573" y="598" width="3" height="11" fill="#e5190b"/>
<rect x="574" y="596" width="1" height="15" fill="#e5190b"/>
<rect x="575" y="583" width="3" height="14" fill="#e5190b"/>
<rect x="576" y="581" width="1" height="17" fill="#e5190b"/>
<rect x="577" y="581" width="3" height="5" fill="#1257c9"/>
<rect x="578" y="579" width="1" height="10" fill="#1257c9"/>
<rect x="580" y="578" width="3" height="8" fill="#e5190b"/>
<rect x="581" y="577" width="1" height="10" fill="#e5190b"/>
<rect x="582" y="586" width="3" height="8" fill="#1257c9"/>
<rect x="583" y="584" width="1" height="10" fill="#1257c9"/>
<rect x="584" y="600" width="3" height="1" fill="#e5190b"/>
<rect x="585" y="596" width="1" height="10" fill="#e5190b"/>
<rect x="586" y="580" width="3" height="2" fill="#1257c9"/>
<rect x="587" y="579" width="1" height="11" fill="#1257c9"/>
<rect x="588" y="559" width="3" height="20" fill="#e5190b"/>
<rect x="589" y="556" width="1" height="25" fill="#e5190b"/>
<rect x="590" y="548" width="3" height="10" fill="#1257c9"/>
<rect x="591" y="544" width="1" height="17" fill="#1257c9"/>
<rect x="592" y="557" width="3" height="6" fill="#1257c9"/>
<rect x="593" y="554" width="1" height="12" fill="#1257c9"/>
<rect x="594" y="549" width="3" height="14" fill="#e5190b"/>
<rect x="595" y="545" width="1" height="20" fill="#e5190b"/>
<rect x="597" y="537" width="3" height="5" fill="#e5190b"/>
<rect x="598" y="536" width="1" height="12" fill="#e5190b"/>
<rect x="599" y="537" width="3" height="4" fill="#1257c9"/>
<rect x="600" y="530" width="1" height="12" fill="#1257c9"/>
<rect x="601" y="533" width="3" height="11" fill="#1257c9"/>
<rect x="602" y="532" width="1" height="12" fill="#1257c9"/>
<rect x="603" y="533" width="3" height="17" fill="#1257c9"/>
<rect x="604" y="527" width="1" height="24" fill="#1257c9"/>
<rect x="605" y="537" width="3" height="12" fill="#e5190b"/>
<rect x="606" y="537" width="1" height="14" fill="#e5190b"/>
<rect x="607" y="531" width="3" height="6" fill="#1257c9"/>
<rect x="608" y="525" width="1" height="13" fill="#1257c9"/>
<rect x="609" y="519" width="3" height="12" fill="#e5190b"/>
<rect x="610" y="518" width="1" height="14" fill="#e5190b"/>
<rect x="611" y="508" width="3" height="2" fill="#e5190b"/>
<rect x="612" y="506" width="1" height="14" fill="#e5190b"/>
<rect x="614" y="502" width="3" height="8" fill="#e5190b"/>
<rect x="615" y="499" width="1" height="21" fill="#e5190b"/>
<rect x="616" y="489" width="3" height="21" fill="#e5190b"/>
<rect x="617" y="487" width="1" height="24" fill="#e5190b"/>
<rect x="618" y="486" width="3" height="14" fill="#1257c9"/>
<rect x="619" y="485" width="1" height="17" fill="#1257c9"/>
<rect x="620" y="502" width="3" height="2" fill="#e5190b"/>
<rect x="621" y="498" width="1" height="14" fill="#e5190b"/>
<rect x="622" y="505" width="3" height="11" fill="#1257c9"/>
<rect x="623" y="504" width="1" height="13" fill="#1257c9"/>
<rect x="624" y="505" width="3" height="16" fill="#e5190b"/>
<rect x="625" y="504" width="1" height="18" fill="#e5190b"/>
<rect x="626" y="513" width="3" height="8" fill="#e5190b"/>
<rect x="627" y="510" width="1" height="14" fill="#e5190b"/>
<rect x="628" y="515" width="3" height="14" fill="#1257c9"/>
<rect x="629" y="513" width="1" height="17" fill="#1257c9"/>
<rect x="631" y="510" width="3" height="16" fill="#e5190b"/>
<rect x="632" y="507" width="1" height="20" fill="#e5190b"/>
<rect x="633" y="508" width="3" height="7" fill="#e5190b"/>
<rect x="634" y="503" width="1" height="13" fill="#e5190b"/>
<rect x="635" y="508" width="3" height="5" fill="#1257c9"/>
<rect x="636" y="506" width="1" height="8" fill="#1257c9"/>
<rect x="637" y="491" width="3" height="8" fill="#e5190b"/>
<rect x="638" y="489" width="1" height="12" fill="#e5190b"/>
<rect x="639" y="490" width="3" height="2" fill="#e5190b"/>
<rect x="640" y="488" width="1" height="5" fill="#e5190b"/>
<rect x="641" y="491" width="3" height="3" fill="#e5190b"/>
<rect x="642" y="487" width="1" height="8" fill="#e5190b"/>
<rect x="643" y="501" width="3" height="3" fill="#e5190b"/>
<rect x="644" y="500" width="1" height="10" fill="#e5190b"/>
<rect x="645" y="500" width="3" height="4" fill="#1257c9"/>
<rect x="646" y="491" width="1" height="13" fill="#1257c9"/>
<rect x="648" y="501" width="3" height="3" fill="#e5190b"/>
<rect x="649" y="500" width="1" height="9" fill="#e5190b"/>
<rect x="650" y="493" width="3" height="7" fill="#e5190b"/>
<rect x="651" y="493" width="1" height="8" fill="#e5190b"/>
<rect x="652" y="480" width="3" height="3" fill="#e5190b"/>
<rect x="653" y="478" width="1" height="10" fill="#e5190b"/>
<rect x="654" y="462" width="3" height="12" fill="#e5190b"/>
<rect x="655" y="461" width="1" height="14" fill="#e5190b"/>
<rect x="656" y="460" width="3" height="5" fill="#1257c9"/>
<rect x="657" y="456" width="1" height="12" fill="#1257c9"/>
<rect x="658" y="456" width="3" height="7" fill="#e5190b"/>
<rect x="659" y="454" width="1" height="10" fill="#e5190b"/>
<rect x="660" y="443" width="3" height="17" fill="#e5190b"/>
<rect x="661" y="441" width="1" height="21" fill="#e5190b"/>
<rect x="662" y="441" width="3" height="5" fill="#1257c9"/>
<rect x="663" y="438" width="1" height="10" fill="#1257c9"/>
<rect x="665" y="451" width="3" height="17" fill="#1257c9"/>
<rect x="666" y="449" width="1" height="22" fill="#1257c9"/>
<rect x="667" y="460" width="3" height="12" fill="#1257c9"/>
<rect x="668" y="458" width="1" height="17" fill="#1257c9"/>
<rect x="669" y="467" width="3" height="5" fill="#1257c9"/>
<rect x="670" y="465" width="1" height="11" fill="#1257c9"/>
<rect x="671" y="463" width="3" height="4" fill="#e5190b"/>
<rect x="672" y="458" width="1" height="10" fill="#e5190b"/>
<rect x="673" y="463" width="3" height="1" fill="#e5190b"/>
<rect x="674" y="460" width="1" height="8" fill="#e5190b"/>
<rect x="675" y="447" width="3" height="23" fill="#1257c9"/>
<rect x="676" y="445" width="1" height="30" fill="#1257c9"/>
<rect x="677" y="446" width="3" height="13" fill="#e5190b"/>
<rect x="678" y="443" width="1" height="17" fill="#e5190b"/>
<rect x="679" y="444" width="3" height="5" fill="#e5190b"/>
<rect x="680" y="444" width="1" height="13" fill="#e5190b"/>
<rect x="682" y="451" width="3" height="1" fill="#e5190b"/>
<rect x="683" y="449" width="1" height="9" fill="#e5190b"/>
<rect x="684" y="464" width="3" height="14" fill="#1257c9"/>
<rect x="685" y="462" width="1" height="18" fill="#1257c9"/>
<rect x="686" y="476" width="3" height="8" fill="#e5190b"/>
<rect x="687" y="476" width="1" height="10" fill="#e5190b"/>
<rect x="688" y="472" width="3" height="11" fill="#1257c9"/>
<rect x="689" y="465" width="1" height="21" fill="#1257c9"/>
<rect x="690" y="476" width="3" height="2" fill="#e5190b"/>
<rect x="691" y="475" width="1" height="11" fill="#e5190b"/>
<rect x="692" y="484" width="3" height="7" fill="#1257c9"/>
<rect x="693" y="482" width="1" height="11" fill="#1257c9"/>
<rect x="694" y="484" width="3" height="15" fill="#1257c9"/>
<rect x="695" y="479" width="1" height="22" fill="#1257c9"/>
<rect x="696" y="490" width="3" height="8" fill="#1257c9"/>
<rect x="697" y="489" width="1" height="11" fill="#1257c9"/>
<rect x="699" y="504" width="3" height="4" fill="#e5190b"/>
<rect x="700" y="503" width="1" height="6" fill="#e5190b"/>
<rect x="701" y="492" width="3" height="16" fill="#e5190b"/>
<rect x="702" y="490" width="1" height="21" fill="#e5190b"/>
<rect x="703" y="493" width="3" height="12" fill="#1257c9"/>
<rect x="704" y="491" width="1" height="16" fill="#1257c9"/>
<rect x="705" y="508" width="3" height="8" fill="#1257c9"/>
<rect x="706" y="505" width="1" height="14" fill="#1257c9"/>
<rect x="707" y="514" width="3" height="18" fill="#1257c9"/>
<rect x="708" y="512" width="1" height="21" fill="#1257c9"/>
<rect x="709" y="533" width="3" height="9" fill="#e5190b"/>
<rect x="710" y="529" width="1" height="16" fill="#e5190b"/>
<rect x="711" y="513" width="3" height="16" fill="#e5190b"/>
<rect x="712" y="513" width="1" height="17" fill="#e5190b"/>
<rect x="713" y="508" width="3" height="7" fill="#1257c9"/>
<rect x="714" y="507" width="1" height="9" fill="#1257c9"/>
<rect x="716" y="497" width="3" height="18" fill="#1257c9"/>
<rect x="717" y="493" width="1" height="24" fill="#1257c9"/>
<rect x="718" y="488" width="3" height="31" fill="#1257c9"/>
<rect x="719" y="487" width="1" height="33" fill="#1257c9"/>
<rect x="720" y="507" width="3" height="9" fill="#e5190b"/>
<rect x="721" y="505" width="1" height="22" fill="#e5190b"/>
<rect x="722" y="499" width="3" height="2" fill="#e5190b"/>
<rect x="723" y="496" width="1" height="8" fill="#e5190b"/>
<rect x="724" y="479" width="3" height="21" fill="#e5190b"/>
<rect x="725" y="477" width="1" height="26" fill="#e5190b"/>
<rect x="726" y="472" width="3" height="7" fill="#e5190b"/>
<rect x="727" y="470" width="1" height="11" fill="#e5190b"/>
<rect x="728" y="468" width="3" height="4" fill="#1257c9"/>
<rect x="729" y="467" width="1" height="8" fill="#1257c9"/>
<rect x="730" y="464" width="3" height="8" fill="#1257c9"/>
<rect x="731" y="462" width="1" height="13" fill="#1257c9"/>
<rect x="733" y="472" width="3" height="4" fill="#e5190b"/>
<rect x="734" y="470" width="1" height="7" fill="#e5190b"/>
<rect x="735" y="476" width="3" height="9" fill="#1257c9"/>
<rect x="736" y="475" width="1" height="17" fill="#1257c9"/>
<rect x="737" y="496" width="3" height="4" fill="#e5190b"/>
<rect x="738" y="494" width="1" height="10" fill="#e5190b"/>
<rect x="739" y="493" width="3" height="1" fill="#e5190b"/>
<rect x="740" y="488" width="1" height="8" fill="#e5190b"/>
<rect x="741" y="481" width="3" height="3" fill="#e5190b"/>
<rect x="742" y="480" width="1" height="6" fill="#e5190b"/>
<rect x="743" y="486" width="3" height="8" fill="#1257c9"/>
<rect x="744" y="482" width="1" height="13" fill="#1257c9"/>
<rect x="745" y="491" width="3" height="1" fill="#e5190b"/>
<rect x="746" y="486" width="1" height="8" fill="#e5190b"/>
<rect x="747" y="481" width="3" height="4" fill="#e5190b"/>
<rect x="748" y="478" width="1" height="10" fill="#e5190b"/>
<rect x="750" y="484" width="3" height="15" fill="#1257c9"/>
<rect x="751" y="483" width="1" height="17" fill="#1257c9"/>
<rect x="752" y="499" width="3" height="2" fill="#e5190b"/>
<rect x="753" y="498" width="1" height="4" fill="#e5190b"/>
<rect x="754" y="502" width="3" height="2" fill="#e5190b"/>
<rect x="755" y="500" width="1" height="9" fill="#e5190b"/>
<rect x="756" y="498" width="3" height="21" fill="#1257c9"/>
<rect x="757" y="497" width="1" height="23" fill="#1257c9"/>
<rect x="758" y="529" width="3" height="10" fill="#1257c9"/>
<rect x="759" y="527" width="1" height="13" fill="#1257c9"/>
<rect x="760" y="530" width="3" height="7" fill="#1257c9"/>
<rect x="761" y="528" width="1" height="12" fill="#1257c9"/>
<rect x="762" y="535" width="3" height="7" fill="#e5190b"/>
<rect x="763" y="533" width="1" height="14" fill="#e5190b"/>
<rect x="764" y="542" width="3" height="11" fill="#1257c9"/>
<rect x="765" y="541" width="1" height="14" fill="#1257c9"/>
<rect x="767" y="542" width="3" height="8" fill="#1257c9"/>
<rect x="768" y="540" width="1" height="21" fill="#1257c9"/>
<rect x="769" y="541" width="3" height="14" fill="#e5190b"/>
<rect x="770" y="538" width="1" height="19" fill="#e5190b"/>
<rect x="771" y="529" width="3" height="12" fill="#1257c9"/>
<rect x="772" y="525" width="1" height="18" fill="#1257c9"/>
<rect x="773" y="528" width="3" height="13" fill="#e5190b"/>
<rect x="774" y="527" width="1" height="14" fill="#e5190b"/>
<rect x="775" y="539" width="3" height="13" fill="#1257c9"/>
<rect x="776" y="534" width="1" height="23" fill="#1257c9"/>
<rect x="777" y="539" width="3" height="10" fill="#1257c9"/>
<rect x="778" y="538" width="1" height="13" fill="#1257c9"/>
<rect x="779" y="537" width="3" height="12" fill="#e5190b"/>
<rect x="780" y="536" width="1" height="15" fill="#e5190b"/>
<rect x="781" y="535" width="3" height="14" fill="#e5190b"/>
<rect x="782" y="534" width="1" height="15" fill="#e5190b"/>
<rect x="784" y="517" width="3" height="19" fill="#e5190b"/>
<rect x="785" y="516" width="1" height="22" fill="#e5190b"/>
<rect x="786" y="511" width="3" height="6" fill="#e5190b"/>
<rect x="787" y="509" width="1" height="10" fill="#e5190b"/>
<rect x="788" y="503" width="3" height="9" fill="#e5190b"/>
<rect x="789" y="502" width="1" height="11" fill="#e5190b"/>
<rect x="790" y="502" width="3" height="8" fill="#1257c9"/>
<rect x="791" y="498" width="1" height="19" fill="#1257c9"/>
<rect x="792" y="506" width="3" height="4" fill="#1257c9"/>
<rect x="793" y="504" width="1" height="8" fill="#1257c9"/>
<rect x="794" y="510" width="3" height="11" fill="#e5190b"/>
<rect x="795" y="509" width="1" height="15" fill="#e5190b"/>
<rect x="796" y="512" width="3" height="10" fill="#e5190b"/>
<rect x="797" y="507" width="1" height="16" fill="#e5190b"/>
<rect x="798" y="521" width="3" height="9" fill="#1257c9"/>
<rect x="799" y="518" width="1" height="15" fill="#1257c9"/>
<rect x="801" y="527" width="3" height="13" fill="#1257c9"/>
<rect x="802" y="527" width="1" height="15" fill="#1257c9"/>
<rect x="803" y="542" width="3" height="17" fill="#1257c9"/>
<rect x="804" y="540" width="1" height="21" fill="#1257c9"/>
<rect x="805" y="555" width="3" height="9" fill="#e5190b"/>
<rect x="806" y="553" width="1" height="18" fill="#e5190b"/>
<rect x="807" y="546" width="3" height="7" fill="#e5190b"/>
<rect x="808" y="543" width="1" height="11" fill="#e5190b"/>
<rect x="809" y="555" width="3" height="17" fill="#1257c9"/>
<rect x="810" y="553" width="1" height="22" fill="#1257c9"/>
<rect x="811" y="576" width="3" height="14" fill="#1257c9"/>
<rect x="812" y="575" width="1" height="20" fill="#1257c9"/>
<rect x="813" y="577" width="3" height="10" fill="#1257c9"/>
<rect x="814" y="575" width="1" height="12" fill="#1257c9"/>
<rect x="815" y="572" width="3" height="7" fill="#e5190b"/>
<rect x="816" y="570" width="1" height="13" fill="#e5190b"/>
<rect x="817" y="570" width="3" height="5" fill="#e5190b"/>
<rect x="818" y="567" width="1" height="9" fill="#e5190b"/>
<rect x="820" y="552" width="3" height="15" fill="#e5190b"/>
<rect x="821" y="550" width="1" height="18" fill="#e5190b"/>
<rect x="822" y="533" width="3" height="5" fill="#e5190b"/>
<rect x="823" y="530" width="1" height="12" fill="#e5190b"/>
<rect x="824" y="514" width="3" height="13" fill="#e5190b"/>
<rect x="825" y="512" width="1" height="18" fill="#e5190b"/>
<rect x="826" y="514" width="3" height="1" fill="#e5190b"/>
<rect x="827" y="513" width="1" height="5" fill="#e5190b"/>
<rect x="828" y="502" width="3" height="8" fill="#e5190b"/>
<rect x="829" y="501" width="1" height="10" fill="#e5190b"/>
<rect x="830" y="503" width="3" height="3" fill="#e5190b"/>
<rect x="831" y="502" width="1" height="4" fill="#e5190b"/>
<rect x="832" y="501" width="3" height="13" fill="#1257c9"/>
<rect x="833" y="499" width="1" height="16" fill="#1257c9"/>
<rect x="834" y="491" width="3" height="19" fill="#e5190b"/>
<rect x="835" y="490" width="1" height="21" fill="#e5190b"/>
<rect x="837" y="494" width="3" height="4" fill="#e5190b"/>
<rect x="838" y="494" width="1" height="5" fill="#e5190b"/>
<rect x="839" y="467" width="3" height="7" fill="#e5190b"/>
<rect x="840" y="465" width="1" height="11" fill="#e5190b"/>
<rect x="841" y="463" width="3" height="4" fill="#1257c9"/>
<rect x="842" y="459" width="1" height="8" fill="#1257c9"/>
<rect x="843" y="466" width="3" height="3" fill="#e5190b"/>
<rect x="844" y="463" width="1" height="10" fill="#e5190b"/>
<rect x="845" y="464" width="3" height="3" fill="#e5190b"/>
<rect x="846" y="462" width="1" height="7" fill="#e5190b"/>
<rect x="847" y="451" width="3" height="12" fill="#e5190b"/>
<rect x="848" y="449" width="1" height="15" fill="#e5190b"/>
<rect x="849" y="457" width="3" height="2" fill="#1257c9"/>
<rect x="850" y="454" width="1" height="9" fill="#1257c9"/>
<rect x="851" y="451" width="3" height="3" fill="#1257c9"/>
<rect x="852" y="445" width="1" height="11" fill="#1257c9"/>
<rect x="854" y="454" width="3" height="1" fill="#e5190b"/>
<rect x="855" y="452" width="1" height="7" fill="#e5190b"/>
<rect x="856" y="454" width="3" height="2" fill="#e5190b"/>
<rect x="857" y="451" width="1" height="8" fill="#e5190b"/>
<rect x="858" y="452" width="3" height="3" fill="#e5190b"/>
<rect x="859" y="449" width="1" height="8" fill="#e5190b"/>
<rect x="860" y="444" width="3" height="10" fill="#1257c9"/>
<rect x="861" y="440" width="1" height="15" fill="#1257c9"/>
<rect x="862" y="454" width="3" height="2" fill="#1257c9"/>
<rect x="863" y="452" width="1" height="13" fill="#1257c9"/>
<rect x="864" y="450" width="3" height="10" fill="#e5190b"/>
<rect x="865" y="447" width="1" height="15" fill="#e5190b"/>
<rect x="866" y="459" width="3" height="4" fill="#e5190b"/>
<rect x="867" y="457" width="1" height="14" fill="#e5190b"/>
<rect x="868" y="459" width="3" height="5" fill="#e5190b"/>
<rect x="869" y="458" width="1" height="7" fill="#e5190b"/>
<rect x="871" y="448" width="3" height="15" fill="#1257c9"/>
<rect x="872" y="448" width="1" height="16" fill="#1257c9"/>
<rect x="873" y="446" width="3" height="9" fill="#e5190b"/>
<rect x="874" y="443" width="1" height="14" fill="#e5190b"/>
<rect x="875" y="441" width="3" height="13" fill="#e5190b"/>
<rect x="876" y="438" width="1" height="17" fill="#e5190b"/>
<rect x="877" y="439" width="3" height="10" fill="#e5190b"/>
<rect x="878" y="438" width="1" height="13" fill="#e5190b"/>
<rect x="879" y="431" width="3" height="9" fill="#e5190b"/>
<rect x="880" y="430" width="1" height="13" fill="#e5190b"/>
<rect x="881" y="414" width="3" height="16" fill="#e5190b"/>
<rect x="882" y="412" width="1" height="21" fill="#e5190b"/>
<rect x="883" y="409" width="3" height="3" fill="#1257c9"/>
<rect x="884" y="404" width="1" height="18" fill="#1257c9"/>
<rect x="885" y="407" width="3" height="3" fill="#e5190b"/>
<rect x="886" y="405" width="1" height="8" fill="#e5190b"/>
<rect x="888" y="400" width="3" height="7" fill="#e5190b"/>
<rect x="889" y="398" width="1" height="12" fill="#e5190b"/>
<rect x="890" y="392" width="3" height="7" fill="#e5190b"/>
<rect x="891" y="389" width="1" height="12" fill="#e5190b"/>
<rect x="892" y="394" width="3" height="16" fill="#1257c9"/>
<rect x="893" y="386" width="1" height="27" fill="#1257c9"/>
<rect x="894" y="395" width="3" height="11" fill="#e5190b"/>
<rect x="895" y="395" width="1" height="14" fill="#e5190b"/>
<rect x="896" y="392" width="3" height="2" fill="#1257c9"/>
<rect x="897" y="390" width="1" height="8" fill="#1257c9"/>
<rect x="898" y="384" width="3" height="6" fill="#e5190b"/>
<rect x="899" y="382" width="1" height="10" fill="#e5190b"/>
<rect x="900" y="383" width="3" height="3" fill="#e5190b"/>
<rect x="901" y="381" width="1" height="6" fill="#e5190b"/>
<rect x="902" y="380" width="3" height="5" fill="#1257c9"/>
<rect x="903" y="379" width="1" height="9" fill="#1257c9"/>
<rect x="905" y="384" width="3" height="8" fill="#1257c9"/>
<rect x="906" y="383" width="1" height="14" fill="#1257c9"/>
<rect x="907" y="402" width="3" height="10" fill="#1257c9"/>
<rect x="908" y="401" width="1" height="17" fill="#1257c9"/>
<rect x="909" y="422" width="3" height="4" fill="#1257c9"/>
<rect x="910" y="417" width="1" height="11" fill="#1257c9"/>
<rect x="911" y="431" width="3" height="3" fill="#1257c9"/>
<rect x="912" y="430" width="1" height="5" fill="#1257c9"/>
<rect x="913" y="431" width="3" height="3" fill="#e5190b"/>
<rect x="914" y="429" width="1" height="7" fill="#e5190b"/>
<rect x="915" y="405" width="3" height="24" fill="#e5190b"/>
<rect x="916" y="402" width="1" height="28" fill="#e5190b"/>
<rect x="917" y="404" width="3" height="11" fill="#e5190b"/>
<rect x="918" y="402" width="1" height="15" fill="#e5190b"/>
<rect x="919" y="394" width="3" height="8" fill="#e5190b"/>
<rect x="920" y="393" width="1" height="11" fill="#e5190b"/>
<rect x="922" y="390" width="3" height="5" fill="#1257c9"/>
<rect x="923" y="387" width="1" height="23" fill="#1257c9"/>
<rect x="924" y="391" width="3" height="2" fill="#1257c9"/>
<rect x="925" y="390" width="1" height="4" fill="#1257c9"/>
<rect x="926" y="396" width="3" height="5" fill="#e5190b"/>
<rect x="927" y="392" width="1" height="10" fill="#e5190b"/>
<rect x="928" y="404" width="3" height="3" fill="#e5190b"/>
<rect x="929" y="401" width="1" height="16" fill="#e5190b"/>
<rect x="930" y="388" width="3" height="6" fill="#e5190b"/>
<rect x="931" y="387" width="1" height="13" fill="#e5190b"/>
<rect x="932" y="366" width="3" height="17" fill="#e5190b"/>
<rect x="933" y="365" width="1" height="21" fill="#e5190b"/>
<rect x="934" y="360" width="3" height="2" fill="#1257c9"/>
<rect x="935" y="356" width="1" height="10" fill="#1257c9"/>
<rect x="936" y="358" width="3" height="3" fill="#e5190b"/>
<rect x="937" y="357" width="1" height="8" fill="#e5190b"/>
<rect x="939" y="346" width="3" height="7" fill="#1257c9"/>
<rect x="940" y="341" width="1" height="14" fill="#1257c9"/>
<rect x="941" y="348" width="3" height="8" fill="#1257c9"/>
<rect x="942" y="343" width="1" height="16" fill="#1257c9"/>
<rect x="943" y="353" width="3" height="4" fill="#1257c9"/>
<rect x="944" y="351" width="1" height="6" fill="#1257c9"/>
<rect x="945" y="341" width="3" height="13" fill="#e5190b"/>
<rect x="946" y="340" width="1" height="15" fill="#e5190b"/>
<rect x="947" y="342" width="3" height="8" fill="#1257c9"/>
<rect x="948" y="341" width="1" height="12" fill="#1257c9"/>
<rect x="949" y="365" width="3" height="15" fill="#1257c9"/>
<rect x="950" y="360" width="1" height="20" fill="#1257c9"/>
<rect x="951" y="362" width="3" height="10" fill="#e5190b"/>
<rect x="952" y="361" width="1" height="15" fill="#e5190b"/>
<rect x="953" y="341" width="3" height="19" fill="#e5190b"/>
<rect x="954" y="337" width="1" height="24" fill="#e5190b"/>
<rect x="956" y="341" width="3" height="3" fill="#1257c9"/>
<rect x="957" y="339" width="1" height="14" fill="#1257c9"/>
<rect x="958" y="339" width="3" height="4" fill="#1257c9"/>
<rect x="959" y="336" width="1" height="14" fill="#1257c9"/>
<rect x="960" y="330" width="3" height="6" fill="#e5190b"/>
<rect x="961" y="328" width="1" height="12" fill="#e5190b"/>
<rect x="962" y="327" width="3" height="3" fill="#e5190b"/>
<rect x="963" y="325" width="1" height="7" fill="#e5190b"/>
<rect x="964" y="310" width="3" height="14" fill="#e5190b"/>
<rect x="965" y="308" width="1" height="17" fill="#e5190b"/>
<rect x="966" y="311" width="3" height="5" fill="#1257c9"/>
<rect x="967" y="303" width="1" height="14" fill="#1257c9"/>
<rect x="968" y="338" width="3" height="6" fill="#e5190b"/>
<rect x="969" y="329" width="1" height="19" fill="#e5190b"/>
<rect x="970" y="321" width="3" height="7" fill="#e5190b"/>
<rect x="971" y="321" width="1" height="15" fill="#e5190b"/>
<rect x="973" y="317" width="3" height="11" fill="#e5190b"/>
<rect x="974" y="316" width="1" height="15" fill="#e5190b"/>
<rect x="975" y="317" width="3" height="11" fill="#1257c9"/>
<rect x="976" y="316" width="1" height="14" fill="#1257c9"/>
<rect x="977" y="336" width="3" height="5" fill="#1257c9"/>
<rect x="978" y="332" width="1" height="19" fill="#1257c9"/>
<rect x="979" y="345" width="3" height="4" fill="#e5190b"/>
<rect x="980" y="343" width="1" height="13" fill="#e5190b"/>
<rect x="981" y="306" width="3" height="13" fill="#e5190b"/>
<rect x="982" y="304" width="1" height="16" fill="#e5190b"/>
<rect x="983" y="302" width="3" height="10" fill="#1257c9"/>
<rect x="984" y="299" width="1" height="16" fill="#1257c9"/>
<rect x="985" y="307" width="3" height="5" fill="#1257c9"/>
<rect x="986" y="306" width="1" height="8" fill="#1257c9"/>
<rect x="987" y="307" width="3" height="3" fill="#e5190b"/>
<rect x="988" y="306" width="1" height="8" fill="#e5190b"/>
<rect x="990" y="312" width="3" height="3" fill="#1257c9"/>
<rect x="991" y="309" width="1" height="7" fill="#1257c9"/>
<rect x="992" y="302" width="3" height="3" fill="#e5190b"/>
<rect x="993" y="301" width="1" height="15" fill="#e5190b"/>
<rect x="994" y="287" width="3" height="15" fill="#e5190b"/>
<rect x="995" y="285" width="1" height="19" fill="#e5190b"/>
<rect x="996" y="288" width="3" height="5" fill="#1257c9"/>
<rect x="997" y="285" width="1" height="11" fill="#1257c9"/>
<rect x="998" y="303" width="3" height="12" fill="#1257c9"/>
<rect x="999" y="300" width="1" height="21" fill="#1257c9"/>
<rect x="1000" y="303" width="3" height="6" fill="#1257c9"/>
<rect x="1001" y="300" width="1" height="10" fill="#1257c9"/>
<rect x="1002" y="286" width="3" height="11" fill="#e5190b"/>
<rect x="1003" y="285" width="1" height="15" fill="#e5190b"/>
<rect x="1004" y="284" width="3" height="20" fill="#1257c9"/>
<rect x="1005" y="273" width="1" height="33" fill="#1257c9"/>
<rect x="1007" y="304" width="3" height="4" fill="#1257c9"/>
<rect x="1008" y="303" width="1" height="9" fill="#1257c9"/>
<rect x="1009" y="288" width="3" height="12" fill="#e5190b"/>
<rect x="1010" y="286" width="1" height="24" fill="#e5190b"/>
<rect x="1011" y="290" width="3" height="6" fill="#1257c9"/>
<rect x="1012" y="290" width="1" height="8" fill="#1257c9"/>
<rect x="1013" y="292" width="3" height="7" fill="#1257c9"/>
<rect x="1014" y="289" width="1" height="18" fill="#1257c9"/>
<rect x="1015" y="306" width="3" height="6" fill="#1257c9"/>
<rect x="1016" y="303" width="1" height="13" fill="#1257c9"/>
<rect x="1017" y="297" width="3" height="5" fill="#1257c9"/>
<rect x="1018" y="289" width="1" height="16" fill="#1257c9"/>
<rect x="1019" y="296" width="3" height="12" fill="#e5190b"/>
<rect x="1020" y="294" width="1" height="20" fill="#e5190b"/>
<rect x="1021" y="279" width="3" height="17" fill="#e5190b"/>
<rect x="1022" y="278" width="1" height="18" fill="#e5190b"/>
<rect x="1024" y="267" width="3" height="9" fill="#1257c9"/>
<rect x="1025" y="265" width="1" height="12" fill="#1257c9"/>
<rect x="1026" y="274" width="3" height="5" fill="#e5190b"/>
<rect x="1027" y="272" width="1" height="9" fill="#e5190b"/>
<rect x="1028" y="276" width="3" height="8" fill="#e5190b"/>
<rect x="1029" y="274" width="1" height="12" fill="#e5190b"/>
<rect x="1030" y="273" width="3" height="11" fill="#1257c9"/>
<rect x="1031" y="270" width="1" height="18" fill="#1257c9"/>
<rect x="1032" y="275" width="3" height="2" fill="#1257c9"/>
<rect x="1033" y="273" width="1" height="7" fill="#1257c9"/>
<rect x="1034" y="277" width="3" height="3" fill="#e5190b"/>
<rect x="1035" y="276" width="1" height="6" fill="#e5190b"/>
<rect x="1036" y="277" width="3" height="2" fill="#1257c9"/>
<rect x="1037" y="269" width="1" height="15" fill="#1257c9"/>
<rect x="1038" y="289" width="3" height="6" fill="#e5190b"/>
<rect x="1039" y="289" width="1" height="9" fill="#e5190b"/>
<rect x="1041" y="287" width="3" height="9" fill="#e5190b"/>
<rect x="1042" y="284" width="1" height="14" fill="#e5190b"/>
<rect x="1043" y="275" width="3" height="31" fill="#1257c9"/>
<rect x="1044" y="271" width="1" height="38" fill="#1257c9"/>
<rect x="1045" y="291" width="3" height="12" fill="#e5190b"/>
<rect x="1046" y="289" width="1" height="15" fill="#e5190b"/>
<rect x="1047" y="287" width="3" height="3" fill="#1257c9"/>
<rect x="1048" y="286" width="1" height="5" fill="#1257c9"/>
<rect x="1049" y="283" width="3" height="1" fill="#1257c9"/>
<rect x="1050" y="281" width="1" height="18" fill="#1257c9"/>
<rect x="1051" y="296" width="3" height="5" fill="#e5190b"/>
<rect x="1052" y="293" width="1" height="10" fill="#e5190b"/>
<rect x="1053" y="273" width="3" height="22" fill="#e5190b"/>
<rect x="1054" y="271" width="1" height="26" fill="#e5190b"/>
<rect x="1055" y="285" width="3" height="13" fill="#1257c9"/>
<rect x="1056" y="281" width="1" height="18" fill="#1257c9"/>
<rect x="1058" y="287" width="3" height="33" fill="#1257c9"/>
<rect x="1059" y="286" width="1" height="36" fill="#1257c9"/>
<rect x="1060" y="313" width="3" height="5" fill="#1257c9"/>
<rect x="1061" y="311" width="1" height="9" fill="#1257c9"/>
<rect x="1062" y="314" width="3" height="22" fill="#1257c9"/>
<rect x="1063" y="313" width="1" height="25" fill="#1257c9"/>
<rect x="1064" y="334" width="3" height="9" fill="#1257c9"/>
<rect x="1065" y="334" width="1" height="11" fill="#1257c9"/>
<rect x="1066" y="347" width="3" height="22" fill="#1257c9"/>
<rect x="1067" y="345" width="1" height="29" fill="#1257c9"/>
<rect x="1068" y="355" width="3" height="5" fill="#e5190b"/>
<rect x="1069" y="354" width="1" height="16" fill="#e5190b"/>
<rect x="1070" y="335" width="3" height="14" fill="#e5190b"/>
<rect x="1071" y="332" width="1" height="19" fill="#e5190b"/>
<rect x="1072" y="326" width="3" height="7" fill="#1257c9"/>
<rect x="1073" y="323" width="1" height="13" fill="#1257c9"/>
<rect x="1075" y="341" width="3" height="20" fill="#e5190b"/>
<rect x="1076" y="339" width="1" height="26" fill="#e5190b"/>
<rect x="1077" y="315" width="3" height="9" fill="#e5190b"/>
<rect x="1078" y="311" width="1" height="18" fill="#e5190b"/>
<rect x="1079" y="310" width="3" height="3" fill="#1257c9"/>
<rect x="1080" y="308" width="1" height="8" fill="#1257c9"/>
<rect x="1081" y="314" width="3" height="24" fill="#1257c9"/>
<rect x="1082" y="312" width="1" height="29" fill="#1257c9"/>
<rect x="1083" y="339" width="3" height="4" fill="#1257c9"/>
<rect x="1084" y="316" width="1" height="30" fill="#1257c9"/>
<rect x="1085" y="323" width="3" height="7" fill="#e5190b"/>
<rect x="1086" y="321" width="1" height="22" fill="#e5190b"/>
<rect x="1087" y="297" width="3" height="1" fill="#e5190b"/>
<rect x="1088" y="293" width="1" height="11" fill="#e5190b"/>
<rect x="1089" y="282" width="3" height="11" fill="#e5190b"/>
<rect x="1090" y="280" width="1" height="14" fill="#e5190b"/>
<rect x="1091" y="279" width="3" height="4" fill="#1257c9"/>
<rect x="1092" y="277" width="1" height="7" fill="#1257c9"/>
<rect x="1094" y="283" width="3" height="8" fill="#e5190b"/>
<rect x="1095" y="280" width="1" height="14" fill="#e5190b"/>
<rect x="1096" y="282" width="3" height="3" fill="#e5190b"/>
<rect x="1097" y="280" width="1" height="5" fill="#e5190b"/>
<rect x="1098" y="278" width="3" height="5" fill="#1257c9"/>
<rect x="1099" y="275" width="1" height="10" fill="#1257c9"/>
<rect x="1100" y="278" width="3" height="2" fill="#1257c9"/>
<rect x="1101" y="276" width="1" height="6" fill="#1257c9"/>
<rect x="1102" y="267" width="3" height="11" fill="#e5190b"/>
<rect x="1103" y="265" width="1" height="15" fill="#e5190b"/>
<rect x="1104" y="248" width="3" height="13" fill="#e5190b"/>
<rect x="1105" y="245" width="1" height="21" fill="#e5190b"/>
<rect x="1106" y="249" width="3" height="4" fill="#1257c9"/>
<rect x="1107" y="244" width="1" height="10" fill="#1257c9"/>
<rect x="1108" y="251" width="3" height="3" fill="#1257c9"/>
<rect x="1109" y="250" width="1" height="9" fill="#1257c9"/>
<rect x="1111" y="243" width="3" height="9" fill="#e5190b"/>
<rect x="1112" y="242" width="1" height="12" fill="#e5190b"/>
<rect x="1113" y="241" width="3" height="9" fill="#e5190b"/>
<rect x="1114" y="239" width="1" height="12" fill="#e5190b"/>
<rect x="1115" y="240" width="3" height="10" fill="#1257c9"/>
<rect x="1116" y="238" width="1" height="14" fill="#1257c9"/>
<rect x="1117" y="227" width="3" height="23" fill="#1257c9"/>
<rect x="1118" y="226" width="1" height="29" fill="#1257c9"/>
<rect x="1119" y="234" width="3" height="12" fill="#e5190b"/>
<rect x="1120" y="233" width="1" height="16" fill="#e5190b"/>
<rect x="1121" y="226" width="3" height="7" fill="#e5190b"/>
<rect x="1122" y="224" width="1" height="10" fill="#e5190b"/>
<rect x="1123" y="234" width="3" height="4" fill="#e5190b"/>
<rect x="1124" y="231" width="1" height="8" fill="#e5190b"/>
<rect x="1125" y="236" width="3" height="13" fill="#1257c9"/>
<rect x="1126" y="235" width="1" height="16" fill="#1257c9"/>
<rect x="1128" y="246" width="3" height="4" fill="#1257c9"/>
<rect x="1129" y="245" width="1" height="29" fill="#1257c9"/>
<rect x="1130" y="246" width="3" height="4" fill="#1257c9"/>
<rect x="1131" y="235" width="1" height="21" fill="#1257c9"/>
<rect x="1132" y="238" width="3" height="4" fill="#e5190b"/>
<rect x="1133" y="235" width="1" height="13" fill="#e5190b"/>
<rect x="1134" y="212" width="3" height="18" fill="#e5190b"/>
<rect x="1135" y="209" width="1" height="23" fill="#e5190b"/>
<rect x="1136" y="210" width="3" height="4" fill="#1257c9"/>
<rect x="1137" y="208" width="1" height="10" fill="#1257c9"/>
<rect x="1138" y="211" width="3" height="8" fill="#e5190b"/>
<rect x="1139" y="210" width="1" height="10" fill="#e5190b"/>
<rect x="1140" y="211" width="3" height="11" fill="#e5190b"/>
<rect x="1141" y="210" width="1" height="12" fill="#e5190b"/>
<rect x="1142" y="199" width="3" height="16" fill="#e5190b"/>
<rect x="1143" y="197" width="1" height="21" fill="#e5190b"/>
<rect x="1145" y="176" width="3" height="10" fill="#e5190b"/>
<rect x="1146" y="175" width="1" height="13" fill="#e5190b"/>
<rect x="1147" y="167" width="3" height="4" fill="#1257c9"/>
<rect x="1148" y="166" width="1" height="15" fill="#1257c9"/>
<rect x="1149" y="170" width="3" height="7" fill="#e5190b"/>
<rect x="1150" y="169" width="1" height="11" fill="#e5190b"/>
<rect x="1151" y="155" width="3" height="16" fill="#e5190b"/>
<rect x="1152" y="149" width="1" height="23" fill="#e5190b"/>
<rect x="1153" y="155" width="3" height="2" fill="#e5190b"/>
<rect x="1154" y="154" width="1" height="4" fill="#e5190b"/>
<rect x="1155" y="152" width="3" height="17" fill="#1257c9"/>
<rect x="1156" y="149" width="1" height="25" fill="#1257c9"/>
<rect x="1157" y="170" width="3" height="2" fill="#e5190b"/>
<rect x="1158" y="168" width="1" height="9" fill="#e5190b"/>
<rect x="1159" y="171" width="3" height="15" fill="#1257c9"/>
<rect x="1160" y="168" width="1" height="21" fill="#1257c9"/>
<rect x="1162" y="168" width="3" height="14" fill="#e5190b"/>
<rect x="1163" y="166" width="1" height="19" fill="#e5190b"/>
<rect x="1164" y="161" width="3" height="9" fill="#e5190b"/>
<rect x="1165" y="158" width="1" height="14" fill="#e5190b"/>
<rect x="1166" y="155" width="3" height="10" fill="#e5190b"/>
<rect x="1167" y="154" width="1" height="14" fill="#e5190b"/>
<rect x="1168" y="154" width="3" height="14" fill="#1257c9"/>
<rect x="1169" y="142" width="1" height="28" fill="#1257c9"/>
<rect x="1170" y="153" width="3" height="11" fill="#e5190b"/>
<rect x="1171" y="153" width="1" height="21" fill="#e5190b"/>
<rect x="1172" y="142" width="3" height="19" fill="#e5190b"/>
<rect x="1173" y="140" width="1" height="23" fill="#e5190b"/>
<rect x="1174" y="129" width="3" height="15" fill="#e5190b"/>
<rect x="1175" y="128" width="1" height="17" fill="#e5190b"/>
<rect x="1176" y="115" width="3" height="14" fill="#e5190b"/>
<rect x="1177" y="114" width="1" height="16" fill="#e5190b"/>
<rect x="1179" y="111" width="3" height="5" fill="#e5190b"/>
<rect x="1180" y="110" width="1" height="7" fill="#e5190b"/>
<rect x="1181" y="105" width="3" height="4" fill="#1257c9"/>
<rect x="1182" y="102" width="1" height="10" fill="#1257c9"/>
<rect x="1183" y="92" width="3" height="14" fill="#e5190b"/>
<rect x="1184" y="91" width="1" height="18" fill="#e5190b"/>
<rect x="1185" y="90" width="3" height="31" fill="#1257c9"/>
<rect x="1186" y="89" width="1" height="36" fill="#1257c9"/>
<rect x="1187" y="113" width="3" height="8" fill="#e5190b"/>
<rect x="1188" y="99" width="1" height="23" fill="#e5190b"/>
<rect x="1189" y="104" width="3" height="1" fill="#1257c9"/>
<rect x="1190" y="92" width="1" height="20" fill="#1257c9"/>
<rect x="1191" y="101" width="3" height="2" fill="#1257c9"/>
<rect x="1192" y="97" width="1" height="16" fill="#1257c9"/>
<rect x="1193" y="129" width="3" height="16" fill="#1257c9"/>
<rect x="1194" y="126" width="1" height="21" fill="#1257c9"/>
<rect x="1196" y="135" width="3" height="20" fill="#1257c9"/>
<rect x="1197" y="133" width="1" height="25" fill="#1257c9"/>
<rect x="1198" y="157" width="3" height="11" fill="#1257c9"/>
<rect x="1199" y="155" width="1" height="15" fill="#1257c9"/>
</g>
<text x="1240.5" y="727.5" class="ax" textLength="48.5" lengthAdjust="spacingAndGlyphs">11,000.00</text>
<text x="1240.5" y="645.0" class="ax" textLength="48.5" lengthAdjust="spacingAndGlyphs">12,000.00</text>
<text x="1240.5" y="562.5" class="ax" textLength="48.5" lengthAdjust="spacingAndGlyphs">13,000.00</text>
<text x="1240.5" y="480.0" class="ax" textLength="48.5" lengthAdjust="spacingAndGlyphs">14,000.00</text>
<text x="1240.5" y="397.5" class="ax" textLength="48.5" lengthAdjust="spacingAndGlyphs">15,000.00</text>
<text x="1240.5" y="315.0" class="ax" textLength="48.5" lengthAdjust="spacingAndGlyphs">16,000.00</text>
<text x="1240.5" y="232.5" class="ax" textLength="48.5" lengthAdjust="spacingAndGlyphs">17,000.00</text>
<text x="1240.5" y="150.0" class="ax" textLength="48.5" lengthAdjust="spacingAndGlyphs">18,000.00</text>
<text x="21.6" y="841" class="ax" textLength="41.4" lengthAdjust="spacingAndGlyphs">2022/05</text>
<text x="105.1" y="841" class="ax" textLength="11.4" lengthAdjust="spacingAndGlyphs">07</text>
<text x="148.1" y="841" class="ax" textLength="11.4" lengthAdjust="spacingAndGlyphs">08</text>
<text x="197.1" y="841" class="ax" textLength="11.4" lengthAdjust="spacingAndGlyphs">09</text>
<text x="241.0" y="841" class="ax" textLength="11.4" lengthAdjust="spacingAndGlyphs">10</text>
<text x="286.3" y="841" class="ax" textLength="11.4" lengthAdjust="spacingAndGlyphs">11</text>
<text x="330.2" y="841" class="ax" textLength="11.4" lengthAdjust="spacingAndGlyphs">12</text>
<text x="375.2" y="841" class="ax" textLength="41.4" lengthAdjust="spacingAndGlyphs">2023/01</text>
<text x="420.3" y="841" class="ax" textLength="11.4" lengthAdjust="spacingAndGlyphs">02</text>
<text x="460.3" y="841" class="ax" textLength="11.4" lengthAdjust="spacingAndGlyphs">03</text>
<text x="509.2" y="841" class="ax" textLength="11.4" lengthAdjust="spacingAndGlyphs">04</text>
<text x="549.1" y="841" class="ax" textLength="11.4" lengthAdjust="spacingAndGlyphs">05</text>
<text x="596.1" y="841" class="ax" textLength="11.4" lengthAdjust="spacingAndGlyphs">06</text>
<text x="641.1" y="841" class="ax" textLength="11.4" lengthAdjust="spacingAndGlyphs">07</text>
<text x="683.2" y="841" class="ax" textLength="11.4" lengthAdjust="spacingAndGlyphs">08</text>
<text x="732.0" y="841" class="ax" textLength="11.4" lengthAdjust="spacingAndGlyphs">09</text>
<text x="774.3" y="841" class="ax" textLength="11.4" lengthAdjust="spacingAndGlyphs">10</text>
<text x="821.0" y="841" class="ax" textLength="11.4" lengthAdjust="spacingAndGlyphs">11</text>
<text x="866.0" y="841" class="ax" textLength="11.4" lengthAdjust="spacingAndGlyphs">12</text>
<text x="908.3" y="841" class="ax" textLength="41.4" lengthAdjust="spacingAndGlyphs">2024/01</text>
<text x="953.2" y="841" class="ax" textLength="11.4" lengthAdjust="spacingAndGlyphs">02</text>
<text x="995.2" y="841" class="ax" textLength="11.4" lengthAdjust="spacingAndGlyphs">03</text>
<text x="1038.1" y="841" class="ax" textLength="11.4" lengthAdjust="spacingAndGlyphs">04</text>
<text x="1085.0" y="841" class="ax" textLength="11.4" lengthAdjust="spacingAndGlyphs">05</text>
<text x="1131.1" y="841" class="ax" textLength="11.4" lengthAdjust="spacingAndGlyphs">06</text>
<text x="1172.0" y="841" class="ax" textLength="11.4" lengthAdjust="spacingAndGlyphs">07</text>
<rect x="103" y="828" width="1" height="18" fill="#999"/>
<rect x="146" y="828" width="1" height="18" fill="#999"/>
<rect x="195" y="828" width="1" height="18" fill="#999"/>
<rect x="239" y="828" width="1" height="18" fill="#999"/>
<rect x="284" y="828" width="1" height="18" fill="#999"/>
<rect x="328" y="828" width="1" height="18" fill="#999"/>
<rect x="373" y="828" width="1" height="18" fill="#999"/>
<rect x="418" y="828" width="1" height="18" fill="#999"/>
<rect x="458" y="828" width="1" height="18" fill="#999"/>
<rect x="507" y="828" width="1" height="18" fill="#999"/>
<rect x="547" y="828" width="1" height="18" fill="#999"/>
<rect x="594" y="828" width="1" height="18" fill="#999"/>
<rect x="639" y="828" width="1" height="18" fill="#999"/>
<rect x="681" y="828" width="1" height="18" fill="#999"/>
<rect x="730" y="828" width="1" height="18" fill="#999"/>
<rect x="772" y="828" width="1" height="18" fill="#999"/>
<rect x="819" y="828" width="1" height="18" fill="#999"/>
<rect x="864" y="828" width="1" height="18" fill="#999"/>
<rect x="906" y="828" width="1" height="18" fill="#999"/>
<rect x="951" y="828" width="1" height="18" fill="#999"/>
<rect x="993" y="828" width="1" height="18" fill="#999"/>
<rect x="1036" y="828" width="1" height="18" fill="#999"/>
<rect x="1083" y="828" width="1" height="18" fill="#999"/>
<rect x="1129" y="828" width="1" height="18" fill="#999"/>
<rect x="1170" y="828" width="1" height="18" fill="#999"/>
</svg>
<div class="abs" style="left:1233px;top:75px;font-size:13px;line-height:13px;color:#e01010;letter-spacing:-0.7px">LC:75.71</div>
<div class="abs" style="left:1233px;top:87px;font-size:13px;line-height:13px;color:#1155cc;letter-spacing:-0.7px">HC:-5.06</div>
<div class="abs" style="left:1236px;top:160px;width:58px;height:13px;background:#1257c9;color:#fff;font-size:13px;line-height:13px;padding-left:4px;letter-spacing:-1.1px">17,726.94</div>
<div class="abs" style="left:1240px;top:172px;font-size:13px;line-height:13px;color:#1155cc;letter-spacing:-0.7px">-0.81%</div>
<div class="abs" style="left:1240px;top:799px;font-size:13px;line-height:12px;color:#333;letter-spacing:-1.05px">10,000.00</div>
<div class="abs" style="left:1236px;top:802px;width:58px;height:13px;background:#1257c9;color:#fff;font-size:13px;line-height:13px;padding-left:4px;letter-spacing:-0.8px">5,157M</div>
<div class="abs" style="left:1240px;top:814px;font-size:13px;line-height:13px;color:#1155cc;letter-spacing:-0.7px">84.32%</div>
<div class="abs" style="left:1286px;top:822px;width:8px;height:7px;background:#444;color:#ddd;font-size:7px;line-height:7px;text-align:center">×</div>
<div class="abs" style="left:1239.500px;top:829px;font-size:13px;line-height:14px;color:#333;letter-spacing:-0.7px">07/19</div>
<div class="abs" style="left:1043px;top:85px;font-size:12px;line-height:14px;color:#f00000;white-space:pre;letter-spacing:0.05px">최고 18,671.07 (07/11)</div>
<svg class="abs" style="left:1168px;top:86px" width="20" height="14" viewBox="0 0 20 14"><path d="M2 7.3h10" stroke="#f00" stroke-width="1.2"/><path d="M11 2.3l7 5-7 5z" fill="#f00"/></svg>
<div class="abs" style="left:115px;top:787px;font-size:12px;line-height:14px;color:#0000f0;white-space:pre;letter-spacing:0.05px">최저 10,088.83 (10/13)</div>
<svg class="abs" style="left:240px;top:788px" width="20" height="14" viewBox="0 0 20 14"><path d="M2 7.3h10" stroke="#00f" stroke-width="1.2"/><path d="M11 2.3l7 5-7 5z" fill="#00f"/></svg>
<div class="abs" style="left:21px;top:847px;width:906px;height:17px;background:#f6f6f6"></div>
<div class="abs" style="left:21px;top:847px;width:17px;height:17px;background:#f0f0f0;border:1px solid #fff;border-right-color:#777;border-bottom-color:#777"><div style="margin:3.500px 0 0 4px;border:4px solid transparent;border-right:5px solid #000;border-left:0;width:0;height:0"></div></div>
<div class="abs" style="left:706px;top:847px;width:221px;height:17px;background:#f0f0f0;border:1px solid #fff;border-right:2px solid #777;border-bottom:2px solid #777"></div>
<div class="abs" style="left:928px;top:847px;width:17px;height:17px;background:#f0f0f0;border:1px solid #fff;border-right:1px solid #777;border-bottom:1px solid #777"><svg width="16" height="16" viewBox="0 0 16 17" fill="#000"><path d="M6 4l6 4.5-6 4.5z"/></svg></div>
<div class="abs" style="left:945px;top:847px;width:17px;height:17px;background:#f0f0f0;border:1px solid #fff;border-right:1px solid #777;border-bottom:1px solid #777"><svg width="16" height="16" viewBox="0 0 16 17" fill="#000"><path d="M8 4v9l-5-4.5zM13 4v9l-5-4.5z"/></svg></div>
<div class="abs" style="left:962px;top:847px;width:17px;height:17px;background:#f0f0f0;border:1px solid #fff;border-right:1px solid #777;border-bottom:1px solid #777"><svg width="16" height="16" viewBox="0 0 16 17" fill="#000"><rect x="4.5" y="4.5" width="7" height="8"/></svg></div>
<div class="abs" style="left:979px;top:847px;width:17px;height:17px;background:#f0f0f0;border:1px solid #fff;border-right:1px solid #777;border-bottom:1px solid #777"><svg width="16" height="16" viewBox="0 0 16 17" fill="#000"><path d="M3 4l5 4.5-5 4.5zM8 4l5 4.5-5 4.5z"/></svg></div>
<svg class="abs" style="left:998px;top:847px" width="302" height="20" viewBox="998 847 302 20"><path d="M1001 852.5h68" stroke="#888" stroke-width="1.6"/><path d="M1001 853.7h68" stroke="#fff" stroke-width="1"/><path d="M1019 849h3v8l-1.5 2-1.500-2z" fill="#e8e8e8" stroke="#888" stroke-width="0.8"/><rect x="1003.0" y="861" width="1" height="3" fill="#333"/><rect x="1009.5" y="861" width="1" height="3" fill="#333"/><rect x="1016.0" y="861" width="1" height="3" fill="#333"/><rect x="1022.5" y="861" width="1" height="3" fill="#333"/><rect x="1029.0" y="861" width="1" height="3" fill="#333"/><rect x="1035.5" y="861" width="1" height="3" fill="#333"/><rect x="1042.0" y="861" width="1" height="3" fill="#333"/><rect x="1048.5" y="861" width="1" height="3" fill="#333"/><rect x="1055.0" y="861" width="1" height="3" fill="#333"/><rect x="1061.5" y="861" width="1" height="3" fill="#333"/><rect x="1068.0" y="861" width="1" height="3" fill="#333"/><g fill="none" stroke="#9a9a9a" stroke-width="1.2"><rect x="1079" y="850" width="9" height="9" /><rect x="1085" y="856" width="6" height="6" stroke="#666"/><path d="M1088 856v6M1085 859h6" stroke="#666" stroke-width="0.8"/><rect x="1096" y="850" width="9" height="8"/><rect x="1100" y="854" width="9" height="8" fill="#f0f0f0"/><rect x="1113" y="850" width="12" height="11" stroke-dasharray="1.5 1.5"/><path d="M1114 856l3-2 3 2 4-3" stroke="#bbb"/></g><rect x="1128" y="847" width="17" height="18" fill="#fafafa"/><path d="M1128 847.5h17M1128.5 847v18" stroke="#aaa"/><path d="M1131 852h11M1133.500 850v12M1134 853l6 7" stroke="#555" stroke-width="1.2" fill="none"/><path d="M1147 858l4-3 3 3 5-4" stroke="#9a9a9a" fill="none"/><path d="M1147 860h12" stroke="#9a9a9a" stroke-dasharray="2 1"/><path d="M1164 850v12M1163 856l4 4 3-6 3 4" stroke="#9a9a9a" fill="none"/><path d="M1181 861l8-10 1 2-6 9zM1188 857l5 3" stroke="#888" fill="#888"/><path d="M1198 857l8-6 4 2-8 7zM1207 858v4M1209.500 857v5M1212 856v6" stroke="#9a9a9a" fill="#ccc"/><rect x="1217" y="854" width="10" height="8" fill="#fff" stroke="#666"/><rect x="1221" y="850" width="10" height="7" fill="#ddd" stroke="#9a9a9a"/><path d="M1218 860l3-3 2 2 3-4" stroke="#666" fill="none"/><circle cx="1236.500" cy="854" r="3.900" fill="none" stroke="#777" stroke-width="1.300"/><path d="M1239.500 857l4 4" stroke="#777" stroke-width="1.800"/><path d="M1250 856h9" stroke="#777" stroke-width="2.200"/><path d="M1267 856h10.500M1272.200 850.700v10.500" stroke="#555" stroke-width="2.200"/></svg>
<div class="abs" style="left:1282px;top:847px;width:14px;font-size:13px;font-weight:bold;line-height:18px;color:#666;text-align:center">A</div>
<div id="cal" class="abs"><div id="calh" class="abs"></div><div class="cb" style="left:3px"><svg width="15" height="15" viewBox="0 0 15 15" fill="#222"><path d="M7.500 4v7l-4-3.500zM12 4v7l-4-3.500z"/></svg></div><div class="cb" style="left:21px"><svg width="15" height="15" viewBox="0 0 15 15" fill="#222"><path d="M10 4v7l-4.500-3.500z"/></svg></div><div class="cb" style="left:111px"><svg width="15" height="15" viewBox="0 0 15 15" fill="#222"><path d="M6 4v7l4.500-3.500z"/></svg></div><div class="cb" style="left:130px"><svg width="15" height="15" viewBox="0 0 15 15" fill="#222"><path d="M3.500 4v7l4-3.500zM8 4v7l4-3.500z"/></svg></div><div class="abs" style="left:40px;top:4px;font-size:13px;font-weight:bold;line-height:16px;white-space:pre;letter-spacing:-0.3px"><span style="color:#2030e0;text-decoration:underline">2024</span>년  <span style="color:#2030e0;text-decoration:underline"> 7</span>월</div><div class="cd wd" style="left:5px;top:25px;font-size:13px">일</div><div class="cd wd" style="left:25px;top:25px;font-size:13px">월</div><div class="cd wd" style="left:45px;top:25px;font-size:13px">화</div><div class="cd wd" style="left:65px;top:25px;font-size:13px">수</div><div class="cd wd" style="left:85px;top:25px;font-size:13px">목</div><div class="cd wd" style="left:105px;top:25px;font-size:13px">금</div><div class="cd wd" style="left:125px;top:25px;font-size:13px">토</div><div class="abs" style="left:0;top:38px;width:148px;height:1px;background:#222"></div><div class="abs" style="left:113px;top:76px;width:10px;height:10px;border-radius:5px;background:#a9c5ea"></div><div class="cd cg" style="left:5px;top:43px">30</div><div class="cd" style="left:25px;top:43px">1</div><div class="cd" style="left:45px;top:43px">2</div><div class="cd" style="left:65px;top:43px">3</div><div class="cd" style="left:85px;top:43px">4</div><div class="cd" style="left:105px;top:43px">5</div><div class="cd" style="left:125px;top:43px">6</div><div class="cd" style="left:5px;top:59px">7</div><div class="cd" style="left:25px;top:59px">8</div><div class="cd" style="left:45px;top:59px">9</div><div class="cd" style="left:65px;top:59px">10</div><div class="cd" style="left:85px;top:59px">11</div><div class="cd" style="left:105px;top:59px">12</div><div class="cd" style="left:125px;top:59px">13</div><div class="cd" style="left:5px;top:75px">14</div><div class="cd" style="left:25px;top:75px">15</div><div class="cd" style="left:45px;top:75px">16</div><div class="cd" style="left:65px;top:75px">17</div><div class="cd" style="left:85px;top:75px">18</div><div class="cd" style="left:105px;top:75px">19</div><div class="cd" style="left:125px;top:75px">20</div><div class="cd" style="left:5px;top:91px">21</div><div class="cd" style="left:25px;top:91px">22</div><div class="cd" style="left:45px;top:91px">23</div><div class="cd" style="left:65px;top:91px">24</div><div class="cd" style="left:85px;top:91px">25</div><div class="cd" style="left:105px;top:91px">26</div><div class="cd" style="left:125px;top:91px">27</div><div class="cd" style="left:5px;top:107px">28</div><div class="cd" style="left:25px;top:107px">29</div><div class="cd" style="left:45px;top:107px">30</div><div class="cd" style="left:65px;top:107px">31</div><div class="cd cg" style="left:85px;top:107px">1</div><div class="cd cg" style="left:105px;top:107px">2</div><div class="cd cg" style="left:125px;top:107px">3</div><div class="cd cg" style="left:5px;top:123px">4</div><div class="cd cg" style="left:25px;top:123px">5</div><div class="cd cg" style="left:45px;top:123px">6</div><div class="cd cg" style="left:65px;top:123px">7</div><div class="cd cg" style="left:85px;top:123px">8</div><div class="cd cg" style="left:105px;top:123px">9</div><div class="cd cg" style="left:125px;top:123px">10</div><div class="abs" style="left:27px;top:137px;font-size:13px;font-weight:bold;line-height:16px;white-space:pre;letter-spacing:0.3px">오늘:2024-07-21</div><svg class="abs" style="left:6px;top:87px" width="24" height="70" viewBox="0 0 24 70" fill="none" stroke="#f00" stroke-width="1.9"><path d="M4 4c4-2 10-1.500 13 0 3 3 2 9-1 10.500-4 1.500-10 1-12-1-3-3-1-7 3-7.500 4-.5 8-.3 9 0"/><path d="M3 53c3-2 10-2 13 0 3 2 2 8-1 10-4 1.500-10 1-12-1-3-3-1-7 3-7.500 4-.5 8-.3 9 0"/></svg></div>
</body></html>
